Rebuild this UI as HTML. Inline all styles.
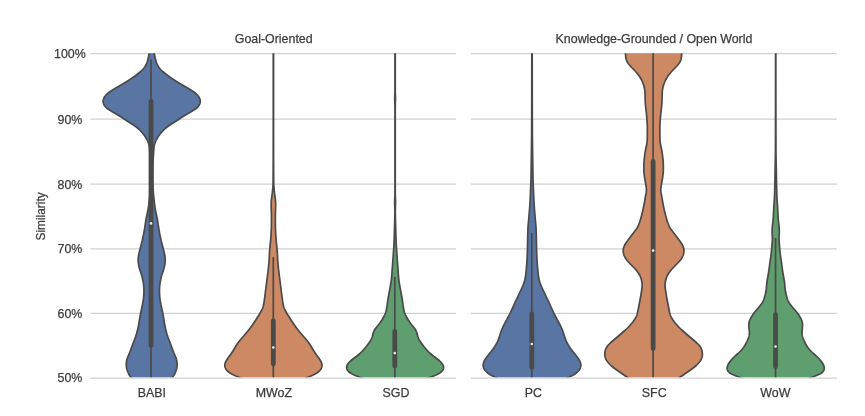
<!DOCTYPE html>
<html><head><meta charset="utf-8"><title>Similarity violin plot</title>
<style>html,body{margin:0;padding:0;background:#fff;}svg{display:block;will-change:transform;}text{font-family:"Liberation Sans",sans-serif;font-size:12.4px;fill:#3d3d3d;stroke:#3d3d3d;stroke-width:0.25px;}</style></head><body>
<svg width="865" height="416" viewBox="0 0 865 416">
<rect x="0" y="0" width="865" height="416" fill="#ffffff"/>
<defs>
<clipPath id="cl"><rect x="88.4" y="53.20" width="369.6" height="324.10"/></clipPath>
<clipPath id="cr"><rect x="468.9" y="53.20" width="369.8" height="324.10"/></clipPath>
</defs>
<g stroke="#d2d2d2" stroke-width="1.25" fill="none">
<line x1="90.4" y1="53.50" x2="456.0" y2="53.50"/>
<line x1="470.9" y1="53.50" x2="836.7" y2="53.50"/>
<line x1="90.4" y1="119.20" x2="456.0" y2="119.20"/>
<line x1="470.9" y1="119.20" x2="836.7" y2="119.20"/>
<line x1="90.4" y1="184.10" x2="456.0" y2="184.10"/>
<line x1="470.9" y1="184.10" x2="836.7" y2="184.10"/>
<line x1="90.4" y1="248.90" x2="456.0" y2="248.90"/>
<line x1="470.9" y1="248.90" x2="836.7" y2="248.90"/>
<line x1="90.4" y1="313.30" x2="456.0" y2="313.30"/>
<line x1="470.9" y1="313.30" x2="836.7" y2="313.30"/>
<line x1="90.4" y1="378.00" x2="456.0" y2="378.00"/>
<line x1="470.9" y1="378.00" x2="836.7" y2="378.00"/>
</g>
<text x="69.9" y="57.95" text-anchor="middle">100%</text>
<text x="69.9" y="123.65" text-anchor="middle">90%</text>
<text x="69.9" y="188.55" text-anchor="middle">80%</text>
<text x="69.9" y="253.35" text-anchor="middle">70%</text>
<text x="69.9" y="317.75" text-anchor="middle">60%</text>
<text x="69.9" y="382.45" text-anchor="middle">50%</text>
<text transform="translate(45.2,216.4) rotate(-90)" text-anchor="middle" style="font-size:11.9px">Similarity</text>
<text x="273.7" y="42.7" text-anchor="middle">Goal-Oriented</text>
<text x="654.0" y="42.7" text-anchor="middle">Knowledge-Grounded / Open World</text>
<text x="151.8" y="396.6" text-anchor="middle">BABI</text>
<text x="273.9" y="396.6" text-anchor="middle">MWoZ</text>
<text x="396.0" y="396.6" text-anchor="middle">SGD</text>
<text x="533.3" y="396.6" text-anchor="middle">PC</text>
<text x="654.2" y="396.6" text-anchor="middle">SFC</text>
<text x="775.4" y="396.6" text-anchor="middle">WoW</text>
<g clip-path="url(#cl)">
<path d="M149.32,50.00 L149.31,50.50 L149.29,51.00 L149.26,51.50 L149.23,52.00 L149.19,52.50 L149.14,53.00 L149.09,53.50 L149.02,54.00 L148.95,54.50 L148.86,55.00 L148.77,55.50 L148.67,56.00 L148.57,56.50 L148.46,57.00 L148.34,57.50 L148.22,58.00 L148.10,58.50 L147.98,59.00 L147.85,59.50 L147.72,60.00 L147.58,60.50 L147.44,61.00 L147.29,61.50 L147.14,62.00 L146.97,62.50 L146.79,63.00 L146.59,63.50 L146.38,64.00 L146.15,64.50 L145.89,65.00 L145.62,65.50 L145.33,66.00 L145.01,66.50 L144.68,67.00 L144.32,67.50 L143.94,68.00 L143.54,68.50 L143.12,69.00 L142.68,69.50 L142.21,70.00 L141.71,70.50 L141.19,71.00 L140.65,71.50 L140.08,72.00 L139.49,72.50 L138.89,73.00 L138.27,73.50 L137.64,74.00 L137.00,74.50 L136.34,75.00 L135.68,75.50 L135.00,76.00 L134.32,76.50 L133.62,77.00 L132.91,77.50 L132.20,78.00 L131.47,78.50 L130.73,79.00 L129.97,79.50 L129.21,80.00 L128.44,80.50 L127.65,81.00 L126.86,81.50 L126.05,82.00 L125.24,82.50 L124.41,83.00 L123.58,83.50 L122.74,84.00 L121.88,84.50 L121.03,85.00 L120.16,85.50 L119.30,86.00 L118.43,86.50 L117.56,87.00 L116.69,87.50 L115.84,88.00 L115.00,88.50 L114.16,89.00 L113.35,89.50 L112.55,90.00 L111.76,90.50 L111.00,91.00 L110.26,91.50 L109.55,92.00 L108.87,92.50 L108.23,93.00 L107.63,93.50 L107.07,94.00 L106.55,94.50 L106.07,95.00 L105.63,95.50 L105.23,96.00 L104.86,96.50 L104.53,97.00 L104.24,97.50 L103.97,98.00 L103.74,98.50 L103.55,99.00 L103.39,99.50 L103.27,100.00 L103.19,100.50 L103.14,101.00 L103.14,101.50 L103.18,102.00 L103.25,102.50 L103.36,103.00 L103.51,103.50 L103.69,104.00 L103.91,104.50 L104.17,105.00 L104.47,105.50 L104.82,106.00 L105.21,106.50 L105.66,107.00 L106.17,107.50 L106.73,108.00 L107.35,108.50 L108.03,109.00 L108.74,109.50 L109.50,110.00 L110.29,110.50 L111.10,111.00 L111.92,111.50 L112.76,112.00 L113.60,112.50 L114.45,113.00 L115.30,113.50 L116.15,114.00 L117.00,114.50 L117.84,115.00 L118.68,115.50 L119.50,116.00 L120.31,116.50 L121.11,117.00 L121.89,117.50 L122.66,118.00 L123.42,118.50 L124.16,119.00 L124.91,119.50 L125.65,120.00 L126.40,120.50 L127.16,121.00 L127.93,121.50 L128.71,122.00 L129.50,122.50 L130.30,123.00 L131.10,123.50 L131.90,124.00 L132.69,124.50 L133.46,125.00 L134.22,125.50 L134.94,126.00 L135.64,126.50 L136.31,127.00 L136.94,127.50 L137.55,128.00 L138.12,128.50 L138.67,129.00 L139.20,129.50 L139.71,130.00 L140.20,130.50 L140.68,131.00 L141.14,131.50 L141.59,132.00 L142.03,132.50 L142.46,133.00 L142.88,133.50 L143.28,134.00 L143.68,134.50 L144.06,135.00 L144.43,135.50 L144.79,136.00 L145.13,136.50 L145.45,137.00 L145.77,137.50 L146.06,138.00 L146.35,138.50 L146.63,139.00 L146.89,139.50 L147.14,140.00 L147.38,140.50 L147.62,141.00 L147.84,141.50 L148.05,142.00 L148.25,142.50 L148.44,143.00 L148.61,143.50 L148.76,144.00 L148.90,144.50 L149.02,145.00 L149.12,145.50 L149.21,146.00 L149.28,146.50 L149.35,147.00 L149.40,147.50 L149.45,148.00 L149.50,148.50 L149.54,149.00 L149.58,149.50 L149.61,150.00 L149.65,150.50 L149.68,151.00 L149.72,151.50 L149.75,152.00 L149.79,152.50 L149.83,153.00 L149.86,153.50 L149.90,154.00 L149.93,154.50 L149.97,155.00 L150.00,155.50 L150.03,156.00 L150.06,156.50 L150.09,157.00 L150.12,157.50 L150.15,158.00 L150.18,158.50 L150.20,159.00 L150.22,159.50 L150.24,160.00 L150.26,160.50 L150.28,161.00 L150.29,161.50 L150.31,162.00 L150.33,162.50 L150.34,163.00 L150.35,163.50 L150.37,164.00 L150.38,164.50 L150.40,165.00 L150.41,165.50 L150.42,166.00 L150.43,166.50 L150.45,167.00 L150.46,167.50 L150.47,168.00 L150.48,168.50 L150.49,169.00 L150.50,169.50 L150.50,170.00 L150.51,170.50 L150.52,171.00 L150.52,171.50 L150.53,172.00 L150.53,172.50 L150.54,173.00 L150.54,173.50 L150.54,174.00 L150.54,174.50 L150.54,175.00 L150.54,175.50 L150.54,176.00 L150.54,176.50 L150.54,177.00 L150.54,177.50 L150.53,178.00 L150.53,178.50 L150.52,179.00 L150.51,179.50 L150.51,180.00 L150.50,180.50 L150.49,181.00 L150.48,181.50 L150.47,182.00 L150.46,182.50 L150.45,183.00 L150.44,183.50 L150.43,184.00 L150.42,184.50 L150.40,185.00 L150.39,185.50 L150.37,186.00 L150.36,186.50 L150.34,187.00 L150.33,187.50 L150.31,188.00 L150.29,188.50 L150.28,189.00 L150.25,189.50 L150.23,190.00 L150.20,190.50 L150.18,191.00 L150.14,191.50 L150.11,192.00 L150.07,192.50 L150.02,193.00 L149.98,193.50 L149.93,194.00 L149.87,194.50 L149.82,195.00 L149.77,195.50 L149.71,196.00 L149.65,196.50 L149.59,197.00 L149.54,197.50 L149.48,198.00 L149.42,198.50 L149.37,199.00 L149.31,199.50 L149.26,200.00 L149.21,200.50 L149.16,201.00 L149.11,201.50 L149.06,202.00 L149.01,202.50 L148.96,203.00 L148.91,203.50 L148.86,204.00 L148.80,204.50 L148.75,205.00 L148.68,205.50 L148.62,206.00 L148.55,206.50 L148.47,207.00 L148.39,207.50 L148.31,208.00 L148.22,208.50 L148.13,209.00 L148.04,209.50 L147.94,210.00 L147.85,210.50 L147.75,211.00 L147.65,211.50 L147.55,212.00 L147.44,212.50 L147.34,213.00 L147.24,213.50 L147.13,214.00 L147.03,214.50 L146.92,215.00 L146.82,215.50 L146.71,216.00 L146.61,216.50 L146.51,217.00 L146.41,217.50 L146.31,218.00 L146.22,218.50 L146.12,219.00 L146.03,219.50 L145.95,220.00 L145.86,220.50 L145.78,221.00 L145.70,221.50 L145.62,222.00 L145.54,222.50 L145.46,223.00 L145.38,223.50 L145.31,224.00 L145.23,224.50 L145.15,225.00 L145.08,225.50 L145.00,226.00 L144.93,226.50 L144.86,227.00 L144.78,227.50 L144.71,228.00 L144.63,228.50 L144.56,229.00 L144.48,229.50 L144.40,230.00 L144.32,230.50 L144.23,231.00 L144.15,231.50 L144.06,232.00 L143.96,232.50 L143.87,233.00 L143.77,233.50 L143.68,234.00 L143.58,234.50 L143.47,235.00 L143.37,235.50 L143.26,236.00 L143.16,236.50 L143.05,237.00 L142.94,237.50 L142.83,238.00 L142.71,238.50 L142.60,239.00 L142.48,239.50 L142.36,240.00 L142.25,240.50 L142.12,241.00 L142.00,241.50 L141.88,242.00 L141.76,242.50 L141.63,243.00 L141.51,243.50 L141.38,244.00 L141.26,244.50 L141.13,245.00 L141.00,245.50 L140.87,246.00 L140.75,246.50 L140.62,247.00 L140.49,247.50 L140.36,248.00 L140.23,248.50 L140.10,249.00 L139.98,249.50 L139.85,250.00 L139.72,250.50 L139.59,251.00 L139.47,251.50 L139.34,252.00 L139.22,252.50 L139.11,253.00 L138.99,253.50 L138.89,254.00 L138.78,254.50 L138.69,255.00 L138.60,255.50 L138.51,256.00 L138.44,256.50 L138.37,257.00 L138.30,257.50 L138.25,258.00 L138.21,258.50 L138.18,259.00 L138.16,259.50 L138.15,260.00 L138.16,260.50 L138.18,261.00 L138.21,261.50 L138.25,262.00 L138.30,262.50 L138.37,263.00 L138.44,263.50 L138.51,264.00 L138.59,264.50 L138.68,265.00 L138.78,265.50 L138.88,266.00 L138.98,266.50 L139.09,267.00 L139.21,267.50 L139.34,268.00 L139.47,268.50 L139.61,269.00 L139.75,269.50 L139.90,270.00 L140.06,270.50 L140.23,271.00 L140.40,271.50 L140.57,272.00 L140.75,272.50 L140.93,273.00 L141.10,273.50 L141.27,274.00 L141.43,274.50 L141.59,275.00 L141.74,275.50 L141.89,276.00 L142.02,276.50 L142.15,277.00 L142.28,277.50 L142.40,278.00 L142.51,278.50 L142.62,279.00 L142.73,279.50 L142.83,280.00 L142.93,280.50 L143.02,281.00 L143.11,281.50 L143.20,282.00 L143.28,282.50 L143.36,283.00 L143.43,283.50 L143.50,284.00 L143.56,284.50 L143.62,285.00 L143.67,285.50 L143.71,286.00 L143.76,286.50 L143.79,287.00 L143.83,287.50 L143.85,288.00 L143.88,288.50 L143.90,289.00 L143.91,289.50 L143.92,290.00 L143.92,290.50 L143.92,291.00 L143.92,291.50 L143.92,292.00 L143.91,292.50 L143.90,293.00 L143.88,293.50 L143.86,294.00 L143.84,294.50 L143.81,295.00 L143.78,295.50 L143.75,296.00 L143.71,296.50 L143.66,297.00 L143.61,297.50 L143.55,298.00 L143.49,298.50 L143.42,299.00 L143.35,299.50 L143.28,300.00 L143.21,300.50 L143.13,301.00 L143.05,301.50 L142.96,302.00 L142.87,302.50 L142.78,303.00 L142.69,303.50 L142.59,304.00 L142.49,304.50 L142.40,305.00 L142.29,305.50 L142.19,306.00 L142.09,306.50 L141.98,307.00 L141.88,307.50 L141.77,308.00 L141.66,308.50 L141.55,309.00 L141.44,309.50 L141.33,310.00 L141.22,310.50 L141.11,311.00 L141.00,311.50 L140.89,312.00 L140.79,312.50 L140.69,313.00 L140.59,313.50 L140.49,314.00 L140.40,314.50 L140.31,315.00 L140.22,315.50 L140.13,316.00 L140.04,316.50 L139.95,317.00 L139.87,317.50 L139.78,318.00 L139.70,318.50 L139.62,319.00 L139.54,319.50 L139.46,320.00 L139.38,320.50 L139.30,321.00 L139.22,321.50 L139.14,322.00 L139.06,322.50 L138.98,323.00 L138.89,323.50 L138.81,324.00 L138.72,324.50 L138.63,325.00 L138.53,325.50 L138.44,326.00 L138.34,326.50 L138.23,327.00 L138.12,327.50 L138.01,328.00 L137.90,328.50 L137.79,329.00 L137.67,329.50 L137.55,330.00 L137.42,330.50 L137.29,331.00 L137.16,331.50 L137.03,332.00 L136.89,332.50 L136.75,333.00 L136.60,333.50 L136.46,334.00 L136.30,334.50 L136.15,335.00 L135.99,335.50 L135.83,336.00 L135.66,336.50 L135.50,337.00 L135.32,337.50 L135.15,338.00 L134.97,338.50 L134.78,339.00 L134.60,339.50 L134.41,340.00 L134.22,340.50 L134.02,341.00 L133.83,341.50 L133.64,342.00 L133.44,342.50 L133.25,343.00 L133.06,343.50 L132.87,344.00 L132.68,344.50 L132.49,345.00 L132.31,345.50 L132.12,346.00 L131.94,346.50 L131.76,347.00 L131.57,347.50 L131.39,348.00 L131.20,348.50 L131.02,349.00 L130.83,349.50 L130.64,350.00 L130.45,350.50 L130.26,351.00 L130.07,351.50 L129.87,352.00 L129.67,352.50 L129.47,353.00 L129.26,353.50 L129.04,354.00 L128.82,354.50 L128.60,355.00 L128.38,355.50 L128.16,356.00 L127.95,356.50 L127.74,357.00 L127.55,357.50 L127.37,358.00 L127.21,358.50 L127.06,359.00 L126.93,359.50 L126.81,360.00 L126.70,360.50 L126.61,361.00 L126.52,361.50 L126.45,362.00 L126.39,362.50 L126.34,363.00 L126.30,363.50 L126.28,364.00 L126.27,364.50 L126.28,365.00 L126.30,365.50 L126.34,366.00 L126.39,366.50 L126.46,367.00 L126.54,367.50 L126.64,368.00 L126.75,368.50 L126.88,369.00 L127.01,369.50 L127.16,370.00 L127.32,370.50 L127.49,371.00 L127.67,371.50 L127.86,372.00 L128.07,372.50 L128.29,373.00 L128.53,373.50 L128.79,374.00 L129.06,374.50 L129.34,375.00 L129.65,375.50 L129.96,376.00 L130.29,376.50 L130.62,377.00 L130.97,377.50 L131.32,378.00 L131.68,378.50 L132.05,379.00 L132.41,379.50 L132.76,380.00 L133.10,380.50 L133.41,381.00 L133.69,381.50 L133.93,382.00 L169.47,382.00 L169.71,381.50 L169.99,381.00 L170.30,380.50 L170.64,380.00 L170.99,379.50 L171.35,379.00 L171.72,378.50 L172.08,378.00 L172.43,377.50 L172.78,377.00 L173.11,376.50 L173.44,376.00 L173.75,375.50 L174.06,375.00 L174.34,374.50 L174.61,374.00 L174.87,373.50 L175.11,373.00 L175.33,372.50 L175.54,372.00 L175.73,371.50 L175.91,371.00 L176.08,370.50 L176.24,370.00 L176.39,369.50 L176.52,369.00 L176.65,368.50 L176.76,368.00 L176.86,367.50 L176.94,367.00 L177.01,366.50 L177.06,366.00 L177.10,365.50 L177.12,365.00 L177.13,364.50 L177.12,364.00 L177.10,363.50 L177.06,363.00 L177.01,362.50 L176.95,362.00 L176.88,361.50 L176.79,361.00 L176.70,360.50 L176.59,360.00 L176.47,359.50 L176.34,359.00 L176.19,358.50 L176.03,358.00 L175.85,357.50 L175.66,357.00 L175.45,356.50 L175.24,356.00 L175.02,355.50 L174.80,355.00 L174.58,354.50 L174.36,354.00 L174.14,353.50 L173.93,353.00 L173.73,352.50 L173.53,352.00 L173.33,351.50 L173.14,351.00 L172.95,350.50 L172.76,350.00 L172.57,349.50 L172.38,349.00 L172.20,348.50 L172.01,348.00 L171.83,347.50 L171.64,347.00 L171.46,346.50 L171.28,346.00 L171.09,345.50 L170.91,345.00 L170.72,344.50 L170.53,344.00 L170.34,343.50 L170.15,343.00 L169.96,342.50 L169.76,342.00 L169.57,341.50 L169.38,341.00 L169.18,340.50 L168.99,340.00 L168.80,339.50 L168.62,339.00 L168.43,338.50 L168.25,338.00 L168.08,337.50 L167.90,337.00 L167.74,336.50 L167.57,336.00 L167.41,335.50 L167.25,335.00 L167.10,334.50 L166.94,334.00 L166.80,333.50 L166.65,333.00 L166.51,332.50 L166.37,332.00 L166.24,331.50 L166.11,331.00 L165.98,330.50 L165.85,330.00 L165.73,329.50 L165.61,329.00 L165.50,328.50 L165.39,328.00 L165.28,327.50 L165.17,327.00 L165.06,326.50 L164.96,326.00 L164.87,325.50 L164.77,325.00 L164.68,324.50 L164.59,324.00 L164.51,323.50 L164.42,323.00 L164.34,322.50 L164.26,322.00 L164.18,321.50 L164.10,321.00 L164.02,320.50 L163.94,320.00 L163.86,319.50 L163.78,319.00 L163.70,318.50 L163.62,318.00 L163.53,317.50 L163.45,317.00 L163.36,316.50 L163.27,316.00 L163.18,315.50 L163.09,315.00 L163.00,314.50 L162.91,314.00 L162.81,313.50 L162.71,313.00 L162.61,312.50 L162.51,312.00 L162.40,311.50 L162.29,311.00 L162.18,310.50 L162.07,310.00 L161.96,309.50 L161.85,309.00 L161.74,308.50 L161.63,308.00 L161.52,307.50 L161.42,307.00 L161.31,306.50 L161.21,306.00 L161.11,305.50 L161.00,305.00 L160.91,304.50 L160.81,304.00 L160.71,303.50 L160.62,303.00 L160.53,302.50 L160.44,302.00 L160.35,301.50 L160.27,301.00 L160.19,300.50 L160.12,300.00 L160.05,299.50 L159.98,299.00 L159.91,298.50 L159.85,298.00 L159.79,297.50 L159.74,297.00 L159.69,296.50 L159.65,296.00 L159.62,295.50 L159.59,295.00 L159.56,294.50 L159.54,294.00 L159.52,293.50 L159.50,293.00 L159.49,292.50 L159.48,292.00 L159.48,291.50 L159.48,291.00 L159.48,290.50 L159.48,290.00 L159.49,289.50 L159.50,289.00 L159.52,288.50 L159.55,288.00 L159.57,287.50 L159.61,287.00 L159.64,286.50 L159.69,286.00 L159.73,285.50 L159.78,285.00 L159.84,284.50 L159.90,284.00 L159.97,283.50 L160.04,283.00 L160.12,282.50 L160.20,282.00 L160.29,281.50 L160.38,281.00 L160.47,280.50 L160.57,280.00 L160.67,279.50 L160.78,279.00 L160.89,278.50 L161.00,278.00 L161.12,277.50 L161.25,277.00 L161.38,276.50 L161.51,276.00 L161.66,275.50 L161.81,275.00 L161.97,274.50 L162.13,274.00 L162.30,273.50 L162.47,273.00 L162.65,272.50 L162.83,272.00 L163.00,271.50 L163.17,271.00 L163.34,270.50 L163.50,270.00 L163.65,269.50 L163.79,269.00 L163.93,268.50 L164.06,268.00 L164.19,267.50 L164.31,267.00 L164.42,266.50 L164.52,266.00 L164.62,265.50 L164.72,265.00 L164.81,264.50 L164.89,264.00 L164.96,263.50 L165.03,263.00 L165.10,262.50 L165.15,262.00 L165.19,261.50 L165.22,261.00 L165.24,260.50 L165.25,260.00 L165.24,259.50 L165.22,259.00 L165.19,258.50 L165.15,258.00 L165.10,257.50 L165.03,257.00 L164.96,256.50 L164.89,256.00 L164.80,255.50 L164.71,255.00 L164.62,254.50 L164.51,254.00 L164.41,253.50 L164.29,253.00 L164.18,252.50 L164.06,252.00 L163.93,251.50 L163.81,251.00 L163.68,250.50 L163.55,250.00 L163.42,249.50 L163.30,249.00 L163.17,248.50 L163.04,248.00 L162.91,247.50 L162.78,247.00 L162.65,246.50 L162.53,246.00 L162.40,245.50 L162.27,245.00 L162.14,244.50 L162.02,244.00 L161.89,243.50 L161.77,243.00 L161.64,242.50 L161.52,242.00 L161.40,241.50 L161.28,241.00 L161.15,240.50 L161.04,240.00 L160.92,239.50 L160.80,239.00 L160.69,238.50 L160.57,238.00 L160.46,237.50 L160.35,237.00 L160.24,236.50 L160.14,236.00 L160.03,235.50 L159.93,235.00 L159.82,234.50 L159.72,234.00 L159.63,233.50 L159.53,233.00 L159.44,232.50 L159.34,232.00 L159.25,231.50 L159.17,231.00 L159.08,230.50 L159.00,230.00 L158.92,229.50 L158.84,229.00 L158.77,228.50 L158.69,228.00 L158.62,227.50 L158.54,227.00 L158.47,226.50 L158.40,226.00 L158.32,225.50 L158.25,225.00 L158.17,224.50 L158.09,224.00 L158.02,223.50 L157.94,223.00 L157.86,222.50 L157.78,222.00 L157.70,221.50 L157.62,221.00 L157.54,220.50 L157.45,220.00 L157.37,219.50 L157.28,219.00 L157.18,218.50 L157.09,218.00 L156.99,217.50 L156.89,217.00 L156.79,216.50 L156.69,216.00 L156.58,215.50 L156.48,215.00 L156.37,214.50 L156.27,214.00 L156.16,213.50 L156.06,213.00 L155.96,212.50 L155.85,212.00 L155.75,211.50 L155.65,211.00 L155.55,210.50 L155.46,210.00 L155.36,209.50 L155.27,209.00 L155.18,208.50 L155.09,208.00 L155.01,207.50 L154.93,207.00 L154.85,206.50 L154.78,206.00 L154.72,205.50 L154.65,205.00 L154.60,204.50 L154.54,204.00 L154.49,203.50 L154.44,203.00 L154.39,202.50 L154.34,202.00 L154.29,201.50 L154.24,201.00 L154.19,200.50 L154.14,200.00 L154.09,199.50 L154.03,199.00 L153.98,198.50 L153.92,198.00 L153.86,197.50 L153.81,197.00 L153.75,196.50 L153.69,196.00 L153.63,195.50 L153.58,195.00 L153.53,194.50 L153.47,194.00 L153.42,193.50 L153.38,193.00 L153.33,192.50 L153.29,192.00 L153.26,191.50 L153.22,191.00 L153.20,190.50 L153.17,190.00 L153.15,189.50 L153.12,189.00 L153.11,188.50 L153.09,188.00 L153.07,187.50 L153.06,187.00 L153.04,186.50 L153.03,186.00 L153.01,185.50 L153.00,185.00 L152.98,184.50 L152.97,184.00 L152.96,183.50 L152.95,183.00 L152.94,182.50 L152.93,182.00 L152.92,181.50 L152.91,181.00 L152.90,180.50 L152.89,180.00 L152.89,179.50 L152.88,179.00 L152.87,178.50 L152.87,178.00 L152.86,177.50 L152.86,177.00 L152.86,176.50 L152.86,176.00 L152.86,175.50 L152.86,175.00 L152.86,174.50 L152.86,174.00 L152.86,173.50 L152.86,173.00 L152.87,172.50 L152.87,172.00 L152.88,171.50 L152.88,171.00 L152.89,170.50 L152.90,170.00 L152.90,169.50 L152.91,169.00 L152.92,168.50 L152.93,168.00 L152.94,167.50 L152.95,167.00 L152.97,166.50 L152.98,166.00 L152.99,165.50 L153.00,165.00 L153.02,164.50 L153.03,164.00 L153.05,163.50 L153.06,163.00 L153.07,162.50 L153.09,162.00 L153.11,161.50 L153.12,161.00 L153.14,160.50 L153.16,160.00 L153.18,159.50 L153.20,159.00 L153.22,158.50 L153.25,158.00 L153.28,157.50 L153.31,157.00 L153.34,156.50 L153.37,156.00 L153.40,155.50 L153.43,155.00 L153.47,154.50 L153.50,154.00 L153.54,153.50 L153.57,153.00 L153.61,152.50 L153.65,152.00 L153.68,151.50 L153.72,151.00 L153.75,150.50 L153.79,150.00 L153.82,149.50 L153.86,149.00 L153.90,148.50 L153.95,148.00 L154.00,147.50 L154.05,147.00 L154.12,146.50 L154.19,146.00 L154.28,145.50 L154.38,145.00 L154.50,144.50 L154.64,144.00 L154.79,143.50 L154.96,143.00 L155.15,142.50 L155.35,142.00 L155.56,141.50 L155.78,141.00 L156.02,140.50 L156.26,140.00 L156.51,139.50 L156.77,139.00 L157.05,138.50 L157.34,138.00 L157.63,137.50 L157.95,137.00 L158.27,136.50 L158.61,136.00 L158.97,135.50 L159.34,135.00 L159.72,134.50 L160.12,134.00 L160.52,133.50 L160.94,133.00 L161.37,132.50 L161.81,132.00 L162.26,131.50 L162.72,131.00 L163.20,130.50 L163.69,130.00 L164.20,129.50 L164.73,129.00 L165.28,128.50 L165.85,128.00 L166.46,127.50 L167.09,127.00 L167.76,126.50 L168.46,126.00 L169.18,125.50 L169.94,125.00 L170.71,124.50 L171.50,124.00 L172.30,123.50 L173.10,123.00 L173.90,122.50 L174.69,122.00 L175.47,121.50 L176.24,121.00 L177.00,120.50 L177.75,120.00 L178.49,119.50 L179.24,119.00 L179.98,118.50 L180.74,118.00 L181.51,117.50 L182.29,117.00 L183.09,116.50 L183.90,116.00 L184.72,115.50 L185.56,115.00 L186.40,114.50 L187.25,114.00 L188.10,113.50 L188.95,113.00 L189.80,112.50 L190.64,112.00 L191.48,111.50 L192.30,111.00 L193.11,110.50 L193.90,110.00 L194.66,109.50 L195.37,109.00 L196.05,108.50 L196.67,108.00 L197.23,107.50 L197.74,107.00 L198.19,106.50 L198.58,106.00 L198.93,105.50 L199.23,105.00 L199.49,104.50 L199.71,104.00 L199.89,103.50 L200.04,103.00 L200.15,102.50 L200.22,102.00 L200.26,101.50 L200.26,101.00 L200.21,100.50 L200.13,100.00 L200.01,99.50 L199.85,99.00 L199.66,98.50 L199.43,98.00 L199.16,97.50 L198.87,97.00 L198.54,96.50 L198.17,96.00 L197.77,95.50 L197.33,95.00 L196.85,94.50 L196.33,94.00 L195.77,93.50 L195.17,93.00 L194.53,92.50 L193.85,92.00 L193.14,91.50 L192.40,91.00 L191.64,90.50 L190.85,90.00 L190.05,89.50 L189.24,89.00 L188.40,88.50 L187.56,88.00 L186.71,87.50 L185.84,87.00 L184.97,86.50 L184.10,86.00 L183.24,85.50 L182.37,85.00 L181.52,84.50 L180.66,84.00 L179.82,83.50 L178.99,83.00 L178.16,82.50 L177.35,82.00 L176.54,81.50 L175.75,81.00 L174.96,80.50 L174.19,80.00 L173.43,79.50 L172.67,79.00 L171.93,78.50 L171.20,78.00 L170.49,77.50 L169.78,77.00 L169.08,76.50 L168.40,76.00 L167.72,75.50 L167.06,75.00 L166.40,74.50 L165.76,74.00 L165.13,73.50 L164.51,73.00 L163.91,72.50 L163.32,72.00 L162.75,71.50 L162.21,71.00 L161.69,70.50 L161.19,70.00 L160.72,69.50 L160.28,69.00 L159.86,68.50 L159.46,68.00 L159.08,67.50 L158.72,67.00 L158.39,66.50 L158.07,66.00 L157.78,65.50 L157.51,65.00 L157.25,64.50 L157.02,64.00 L156.81,63.50 L156.61,63.00 L156.43,62.50 L156.26,62.00 L156.11,61.50 L155.96,61.00 L155.82,60.50 L155.68,60.00 L155.55,59.50 L155.42,59.00 L155.30,58.50 L155.18,58.00 L155.06,57.50 L154.94,57.00 L154.83,56.50 L154.73,56.00 L154.63,55.50 L154.54,55.00 L154.45,54.50 L154.38,54.00 L154.31,53.50 L154.26,53.00 L154.21,52.50 L154.17,52.00 L154.14,51.50 L154.11,51.00 L154.09,50.50 L154.08,50.00 Z" fill="#5875a4" stroke="#4a4a4a" stroke-width="1.70" stroke-linejoin="round"/>
<line x1="151.00" y1="59.40" x2="151.00" y2="385.00" stroke="#4a4a4a" stroke-width="1.7"/>
<line x1="151.00" y1="101.50" x2="151.00" y2="345.40" stroke="#4a4a4a" stroke-width="4.8" stroke-linecap="round"/>
<circle cx="151.00" cy="223.40" r="1.3" fill="#ececec"/>
<path d="M273.25,50.00 L273.25,50.50 L273.25,51.00 L273.25,51.50 L273.25,52.00 L273.25,52.50 L273.25,53.00 L273.25,53.50 L273.25,54.00 L273.25,54.50 L273.25,55.00 L273.25,55.50 L273.25,56.00 L273.25,56.50 L273.25,57.00 L273.25,57.50 L273.25,58.00 L273.25,58.50 L273.25,59.00 L273.25,59.50 L273.25,60.00 L273.25,60.50 L273.25,61.00 L273.25,61.50 L273.25,62.00 L273.25,62.50 L273.25,63.00 L273.25,63.50 L273.25,64.00 L273.25,64.50 L273.25,65.00 L273.25,65.50 L273.25,66.00 L273.25,66.50 L273.25,67.00 L273.25,67.50 L273.25,68.00 L273.25,68.50 L273.25,69.00 L273.25,69.50 L273.25,70.00 L273.25,70.50 L273.25,71.00 L273.25,71.50 L273.25,72.00 L273.25,72.50 L273.25,73.00 L273.25,73.50 L273.25,74.00 L273.25,74.50 L273.25,75.00 L273.25,75.50 L273.25,76.00 L273.25,76.50 L273.25,77.00 L273.25,77.50 L273.25,78.00 L273.25,78.50 L273.25,79.00 L273.25,79.50 L273.25,80.00 L273.25,80.50 L273.25,81.00 L273.25,81.50 L273.25,82.00 L273.25,82.50 L273.25,83.00 L273.25,83.50 L273.25,84.00 L273.25,84.50 L273.25,85.00 L273.25,85.50 L273.25,86.00 L273.25,86.50 L273.25,87.00 L273.25,87.50 L273.25,88.00 L273.25,88.50 L273.25,89.00 L273.25,89.50 L273.25,90.00 L273.25,90.50 L273.25,91.00 L273.25,91.50 L273.25,92.00 L273.25,92.50 L273.25,93.00 L273.25,93.50 L273.25,94.00 L273.25,94.50 L273.25,95.00 L273.25,95.50 L273.25,96.00 L273.25,96.50 L273.25,97.00 L273.25,97.50 L273.25,98.00 L273.25,98.50 L273.25,99.00 L273.25,99.50 L273.25,100.00 L273.25,100.50 L273.25,101.00 L273.25,101.50 L273.25,102.00 L273.25,102.50 L273.25,103.00 L273.25,103.50 L273.25,104.00 L273.25,104.50 L273.25,105.00 L273.25,105.50 L273.25,106.00 L273.25,106.50 L273.25,107.00 L273.25,107.50 L273.25,108.00 L273.25,108.50 L273.25,109.00 L273.25,109.50 L273.25,110.00 L273.25,110.50 L273.25,111.00 L273.25,111.50 L273.25,112.00 L273.25,112.50 L273.25,113.00 L273.25,113.50 L273.25,114.00 L273.25,114.50 L273.25,115.00 L273.25,115.50 L273.25,116.00 L273.25,116.50 L273.25,117.00 L273.25,117.50 L273.25,118.00 L273.25,118.50 L273.25,119.00 L273.25,119.50 L273.25,120.00 L273.25,120.50 L273.25,121.00 L273.25,121.50 L273.25,122.00 L273.25,122.50 L273.25,123.00 L273.25,123.50 L273.25,124.00 L273.25,124.50 L273.25,125.00 L273.25,125.50 L273.25,126.00 L273.25,126.50 L273.25,127.00 L273.25,127.50 L273.25,128.00 L273.25,128.50 L273.25,129.00 L273.25,129.50 L273.25,130.00 L273.25,130.50 L273.25,131.00 L273.25,131.50 L273.25,132.00 L273.25,132.50 L273.25,133.00 L273.25,133.50 L273.25,134.00 L273.24,134.50 L273.24,135.00 L273.24,135.50 L273.24,136.00 L273.24,136.50 L273.24,137.00 L273.24,137.50 L273.24,138.00 L273.24,138.50 L273.24,139.00 L273.24,139.50 L273.24,140.00 L273.24,140.50 L273.24,141.00 L273.24,141.50 L273.24,142.00 L273.24,142.50 L273.24,143.00 L273.23,143.50 L273.23,144.00 L273.23,144.50 L273.23,145.00 L273.23,145.50 L273.23,146.00 L273.23,146.50 L273.23,147.00 L273.23,147.50 L273.23,148.00 L273.23,148.50 L273.23,149.00 L273.22,149.50 L273.22,150.00 L273.22,150.50 L273.22,151.00 L273.22,151.50 L273.22,152.00 L273.22,152.50 L273.22,153.00 L273.22,153.50 L273.21,154.00 L273.21,154.50 L273.21,155.00 L273.21,155.50 L273.21,156.00 L273.21,156.50 L273.21,157.00 L273.21,157.50 L273.20,158.00 L273.20,158.50 L273.20,159.00 L273.20,159.50 L273.20,160.00 L273.20,160.50 L273.19,161.00 L273.19,161.50 L273.19,162.00 L273.19,162.50 L273.19,163.00 L273.19,163.50 L273.18,164.00 L273.18,164.50 L273.18,165.00 L273.18,165.50 L273.18,166.00 L273.18,166.50 L273.17,167.00 L273.17,167.50 L273.17,168.00 L273.17,168.50 L273.17,169.00 L273.16,169.50 L273.16,170.00 L273.16,170.50 L273.16,171.00 L273.15,171.50 L273.15,172.00 L273.15,172.50 L273.15,173.00 L273.15,173.50 L273.14,174.00 L273.14,174.50 L273.14,175.00 L273.14,175.50 L273.13,176.00 L273.13,176.50 L273.13,177.00 L273.13,177.50 L273.12,178.00 L273.12,178.50 L273.12,179.00 L273.11,179.50 L273.11,180.00 L273.11,180.50 L273.10,181.00 L273.09,181.50 L273.09,182.00 L273.08,182.50 L273.06,183.00 L273.05,183.50 L273.03,184.00 L273.01,184.50 L272.99,185.00 L272.96,185.50 L272.93,186.00 L272.90,186.50 L272.87,187.00 L272.83,187.50 L272.79,188.00 L272.75,188.50 L272.71,189.00 L272.67,189.50 L272.62,190.00 L272.58,190.50 L272.53,191.00 L272.48,191.50 L272.43,192.00 L272.37,192.50 L272.31,193.00 L272.25,193.50 L272.18,194.00 L272.11,194.50 L272.04,195.00 L271.97,195.50 L271.89,196.00 L271.82,196.50 L271.75,197.00 L271.68,197.50 L271.61,198.00 L271.55,198.50 L271.49,199.00 L271.43,199.50 L271.38,200.00 L271.33,200.50 L271.29,201.00 L271.25,201.50 L271.22,202.00 L271.19,202.50 L271.17,203.00 L271.15,203.50 L271.14,204.00 L271.14,204.50 L271.14,205.00 L271.15,205.50 L271.16,206.00 L271.17,206.50 L271.18,207.00 L271.20,207.50 L271.21,208.00 L271.23,208.50 L271.25,209.00 L271.26,209.50 L271.28,210.00 L271.30,210.50 L271.31,211.00 L271.33,211.50 L271.34,212.00 L271.36,212.50 L271.37,213.00 L271.39,213.50 L271.40,214.00 L271.41,214.50 L271.42,215.00 L271.43,215.50 L271.43,216.00 L271.44,216.50 L271.44,217.00 L271.44,217.50 L271.44,218.00 L271.44,218.50 L271.44,219.00 L271.44,219.50 L271.44,220.00 L271.44,220.50 L271.44,221.00 L271.43,221.50 L271.43,222.00 L271.43,222.50 L271.42,223.00 L271.42,223.50 L271.42,224.00 L271.41,224.50 L271.41,225.00 L271.40,225.50 L271.39,226.00 L271.38,226.50 L271.37,227.00 L271.36,227.50 L271.35,228.00 L271.33,228.50 L271.32,229.00 L271.30,229.50 L271.28,230.00 L271.26,230.50 L271.23,231.00 L271.21,231.50 L271.18,232.00 L271.15,232.50 L271.13,233.00 L271.10,233.50 L271.07,234.00 L271.04,234.50 L271.01,235.00 L270.98,235.50 L270.94,236.00 L270.91,236.50 L270.88,237.00 L270.84,237.50 L270.80,238.00 L270.76,238.50 L270.72,239.00 L270.68,239.50 L270.64,240.00 L270.59,240.50 L270.54,241.00 L270.50,241.50 L270.44,242.00 L270.39,242.50 L270.34,243.00 L270.29,243.50 L270.23,244.00 L270.18,244.50 L270.13,245.00 L270.07,245.50 L270.02,246.00 L269.97,246.50 L269.92,247.00 L269.87,247.50 L269.83,248.00 L269.78,248.50 L269.74,249.00 L269.70,249.50 L269.66,250.00 L269.63,250.50 L269.59,251.00 L269.56,251.50 L269.53,252.00 L269.50,252.50 L269.47,253.00 L269.45,253.50 L269.42,254.00 L269.39,254.50 L269.37,255.00 L269.34,255.50 L269.32,256.00 L269.29,256.50 L269.27,257.00 L269.24,257.50 L269.22,258.00 L269.19,258.50 L269.16,259.00 L269.14,259.50 L269.11,260.00 L269.07,260.50 L269.04,261.00 L269.01,261.50 L268.97,262.00 L268.94,262.50 L268.90,263.00 L268.86,263.50 L268.81,264.00 L268.77,264.50 L268.72,265.00 L268.67,265.50 L268.62,266.00 L268.57,266.50 L268.51,267.00 L268.46,267.50 L268.40,268.00 L268.34,268.50 L268.28,269.00 L268.23,269.50 L268.16,270.00 L268.10,270.50 L268.04,271.00 L267.98,271.50 L267.92,272.00 L267.86,272.50 L267.80,273.00 L267.73,273.50 L267.67,274.00 L267.61,274.50 L267.55,275.00 L267.49,275.50 L267.43,276.00 L267.37,276.50 L267.30,277.00 L267.24,277.50 L267.18,278.00 L267.11,278.50 L267.05,279.00 L266.99,279.50 L266.92,280.00 L266.86,280.50 L266.79,281.00 L266.73,281.50 L266.66,282.00 L266.60,282.50 L266.53,283.00 L266.47,283.50 L266.40,284.00 L266.34,284.50 L266.27,285.00 L266.21,285.50 L266.14,286.00 L266.08,286.50 L266.02,287.00 L265.95,287.50 L265.89,288.00 L265.83,288.50 L265.76,289.00 L265.70,289.50 L265.64,290.00 L265.58,290.50 L265.51,291.00 L265.45,291.50 L265.39,292.00 L265.33,292.50 L265.27,293.00 L265.20,293.50 L265.14,294.00 L265.08,294.50 L265.02,295.00 L264.95,295.50 L264.89,296.00 L264.82,296.50 L264.76,297.00 L264.69,297.50 L264.62,298.00 L264.56,298.50 L264.49,299.00 L264.42,299.50 L264.35,300.00 L264.28,300.50 L264.21,301.00 L264.14,301.50 L264.07,302.00 L263.99,302.50 L263.92,303.00 L263.84,303.50 L263.75,304.00 L263.65,304.50 L263.55,305.00 L263.44,305.50 L263.31,306.00 L263.17,306.50 L263.01,307.00 L262.84,307.50 L262.65,308.00 L262.45,308.50 L262.23,309.00 L261.99,309.50 L261.75,310.00 L261.50,310.50 L261.24,311.00 L260.97,311.50 L260.70,312.00 L260.42,312.50 L260.14,313.00 L259.85,313.50 L259.55,314.00 L259.25,314.50 L258.95,315.00 L258.64,315.50 L258.32,316.00 L258.00,316.50 L257.68,317.00 L257.36,317.50 L257.04,318.00 L256.72,318.50 L256.40,319.00 L256.07,319.50 L255.75,320.00 L255.43,320.50 L255.10,321.00 L254.78,321.50 L254.45,322.00 L254.12,322.50 L253.79,323.00 L253.45,323.50 L253.11,324.00 L252.77,324.50 L252.42,325.00 L252.07,325.50 L251.71,326.00 L251.35,326.50 L250.99,327.00 L250.62,327.50 L250.25,328.00 L249.87,328.50 L249.49,329.00 L249.10,329.50 L248.71,330.00 L248.31,330.50 L247.91,331.00 L247.50,331.50 L247.09,332.00 L246.67,332.50 L246.25,333.00 L245.82,333.50 L245.39,334.00 L244.96,334.50 L244.52,335.00 L244.09,335.50 L243.66,336.00 L243.22,336.50 L242.79,337.00 L242.36,337.50 L241.93,338.00 L241.50,338.50 L241.07,339.00 L240.65,339.50 L240.23,340.00 L239.82,340.50 L239.41,341.00 L239.01,341.50 L238.62,342.00 L238.24,342.50 L237.88,343.00 L237.52,343.50 L237.18,344.00 L236.85,344.50 L236.54,345.00 L236.23,345.50 L235.93,346.00 L235.64,346.50 L235.35,347.00 L235.07,347.50 L234.78,348.00 L234.49,348.50 L234.20,349.00 L233.90,349.50 L233.59,350.00 L233.28,350.50 L232.96,351.00 L232.64,351.50 L232.31,352.00 L231.97,352.50 L231.63,353.00 L231.28,353.50 L230.93,354.00 L230.57,354.50 L230.22,355.00 L229.85,355.50 L229.49,356.00 L229.13,356.50 L228.76,357.00 L228.40,357.50 L228.05,358.00 L227.70,358.50 L227.36,359.00 L227.03,359.50 L226.72,360.00 L226.41,360.50 L226.13,361.00 L225.86,361.50 L225.61,362.00 L225.39,362.50 L225.20,363.00 L225.05,363.50 L224.93,364.00 L224.86,364.50 L224.82,365.00 L224.82,365.50 L224.86,366.00 L224.93,366.50 L225.04,367.00 L225.19,367.50 L225.37,368.00 L225.60,368.50 L225.87,369.00 L226.19,369.50 L226.56,370.00 L226.99,370.50 L227.48,371.00 L228.03,371.50 L228.64,372.00 L229.32,372.50 L230.07,373.00 L230.88,373.50 L231.76,374.00 L232.71,374.50 L233.71,375.00 L234.78,375.50 L235.90,376.00 L237.06,376.50 L238.26,377.00 L239.49,377.50 L240.73,378.00 L241.99,378.50 L243.24,379.00 L244.49,379.50 L245.71,380.00 L246.89,380.50 L248.01,381.00 L249.05,381.50 L249.99,382.00 L250.81,382.50 L251.50,383.00 L295.30,383.00 L295.99,382.50 L296.81,382.00 L297.75,381.50 L298.79,381.00 L299.91,380.50 L301.09,380.00 L302.31,379.50 L303.56,379.00 L304.81,378.50 L306.07,378.00 L307.31,377.50 L308.54,377.00 L309.74,376.50 L310.90,376.00 L312.02,375.50 L313.09,375.00 L314.09,374.50 L315.04,374.00 L315.92,373.50 L316.73,373.00 L317.48,372.50 L318.16,372.00 L318.77,371.50 L319.32,371.00 L319.81,370.50 L320.24,370.00 L320.61,369.50 L320.93,369.00 L321.20,368.50 L321.43,368.00 L321.61,367.50 L321.76,367.00 L321.87,366.50 L321.94,366.00 L321.98,365.50 L321.98,365.00 L321.94,364.50 L321.87,364.00 L321.75,363.50 L321.60,363.00 L321.41,362.50 L321.19,362.00 L320.94,361.50 L320.67,361.00 L320.39,360.50 L320.08,360.00 L319.77,359.50 L319.44,359.00 L319.10,358.50 L318.75,358.00 L318.40,357.50 L318.04,357.00 L317.67,356.50 L317.31,356.00 L316.95,355.50 L316.58,355.00 L316.23,354.50 L315.87,354.00 L315.52,353.50 L315.17,353.00 L314.83,352.50 L314.49,352.00 L314.16,351.50 L313.84,351.00 L313.52,350.50 L313.21,350.00 L312.90,349.50 L312.60,349.00 L312.31,348.50 L312.02,348.00 L311.73,347.50 L311.45,347.00 L311.16,346.50 L310.87,346.00 L310.57,345.50 L310.26,345.00 L309.95,344.50 L309.62,344.00 L309.28,343.50 L308.92,343.00 L308.56,342.50 L308.18,342.00 L307.79,341.50 L307.39,341.00 L306.98,340.50 L306.57,340.00 L306.15,339.50 L305.73,339.00 L305.30,338.50 L304.87,338.00 L304.44,337.50 L304.01,337.00 L303.58,336.50 L303.14,336.00 L302.71,335.50 L302.28,335.00 L301.84,334.50 L301.41,334.00 L300.98,333.50 L300.55,333.00 L300.13,332.50 L299.71,332.00 L299.30,331.50 L298.89,331.00 L298.49,330.50 L298.09,330.00 L297.70,329.50 L297.31,329.00 L296.93,328.50 L296.55,328.00 L296.18,327.50 L295.81,327.00 L295.45,326.50 L295.09,326.00 L294.73,325.50 L294.38,325.00 L294.03,324.50 L293.69,324.00 L293.35,323.50 L293.01,323.00 L292.68,322.50 L292.35,322.00 L292.02,321.50 L291.70,321.00 L291.37,320.50 L291.05,320.00 L290.73,319.50 L290.40,319.00 L290.08,318.50 L289.76,318.00 L289.44,317.50 L289.12,317.00 L288.80,316.50 L288.48,316.00 L288.16,315.50 L287.85,315.00 L287.55,314.50 L287.25,314.00 L286.95,313.50 L286.66,313.00 L286.38,312.50 L286.10,312.00 L285.83,311.50 L285.56,311.00 L285.30,310.50 L285.05,310.00 L284.81,309.50 L284.57,309.00 L284.35,308.50 L284.15,308.00 L283.96,307.50 L283.79,307.00 L283.63,306.50 L283.49,306.00 L283.36,305.50 L283.25,305.00 L283.15,304.50 L283.05,304.00 L282.96,303.50 L282.88,303.00 L282.81,302.50 L282.73,302.00 L282.66,301.50 L282.59,301.00 L282.52,300.50 L282.45,300.00 L282.38,299.50 L282.31,299.00 L282.24,298.50 L282.18,298.00 L282.11,297.50 L282.04,297.00 L281.98,296.50 L281.91,296.00 L281.85,295.50 L281.78,295.00 L281.72,294.50 L281.66,294.00 L281.60,293.50 L281.53,293.00 L281.47,292.50 L281.41,292.00 L281.35,291.50 L281.29,291.00 L281.22,290.50 L281.16,290.00 L281.10,289.50 L281.04,289.00 L280.97,288.50 L280.91,288.00 L280.85,287.50 L280.78,287.00 L280.72,286.50 L280.66,286.00 L280.59,285.50 L280.53,285.00 L280.46,284.50 L280.40,284.00 L280.33,283.50 L280.27,283.00 L280.20,282.50 L280.14,282.00 L280.07,281.50 L280.01,281.00 L279.94,280.50 L279.88,280.00 L279.81,279.50 L279.75,279.00 L279.69,278.50 L279.62,278.00 L279.56,277.50 L279.50,277.00 L279.43,276.50 L279.37,276.00 L279.31,275.50 L279.25,275.00 L279.19,274.50 L279.13,274.00 L279.07,273.50 L279.00,273.00 L278.94,272.50 L278.88,272.00 L278.82,271.50 L278.76,271.00 L278.70,270.50 L278.64,270.00 L278.57,269.50 L278.52,269.00 L278.46,268.50 L278.40,268.00 L278.34,267.50 L278.29,267.00 L278.23,266.50 L278.18,266.00 L278.13,265.50 L278.08,265.00 L278.03,264.50 L277.99,264.00 L277.94,263.50 L277.90,263.00 L277.86,262.50 L277.83,262.00 L277.79,261.50 L277.76,261.00 L277.73,260.50 L277.69,260.00 L277.66,259.50 L277.64,259.00 L277.61,258.50 L277.58,258.00 L277.56,257.50 L277.53,257.00 L277.51,256.50 L277.48,256.00 L277.46,255.50 L277.43,255.00 L277.41,254.50 L277.38,254.00 L277.35,253.50 L277.33,253.00 L277.30,252.50 L277.27,252.00 L277.24,251.50 L277.21,251.00 L277.17,250.50 L277.14,250.00 L277.10,249.50 L277.06,249.00 L277.02,248.50 L276.97,248.00 L276.93,247.50 L276.88,247.00 L276.83,246.50 L276.78,246.00 L276.73,245.50 L276.67,245.00 L276.62,244.50 L276.57,244.00 L276.51,243.50 L276.46,243.00 L276.41,242.50 L276.36,242.00 L276.30,241.50 L276.26,241.00 L276.21,240.50 L276.16,240.00 L276.12,239.50 L276.08,239.00 L276.04,238.50 L276.00,238.00 L275.96,237.50 L275.92,237.00 L275.89,236.50 L275.86,236.00 L275.82,235.50 L275.79,235.00 L275.76,234.50 L275.73,234.00 L275.70,233.50 L275.67,233.00 L275.65,232.50 L275.62,232.00 L275.59,231.50 L275.57,231.00 L275.54,230.50 L275.52,230.00 L275.50,229.50 L275.48,229.00 L275.47,228.50 L275.45,228.00 L275.44,227.50 L275.43,227.00 L275.42,226.50 L275.41,226.00 L275.40,225.50 L275.39,225.00 L275.39,224.50 L275.38,224.00 L275.38,223.50 L275.38,223.00 L275.37,222.50 L275.37,222.00 L275.37,221.50 L275.36,221.00 L275.36,220.50 L275.36,220.00 L275.36,219.50 L275.36,219.00 L275.36,218.50 L275.36,218.00 L275.36,217.50 L275.36,217.00 L275.36,216.50 L275.37,216.00 L275.37,215.50 L275.38,215.00 L275.39,214.50 L275.40,214.00 L275.41,213.50 L275.43,213.00 L275.44,212.50 L275.46,212.00 L275.47,211.50 L275.49,211.00 L275.50,210.50 L275.52,210.00 L275.54,209.50 L275.55,209.00 L275.57,208.50 L275.59,208.00 L275.60,207.50 L275.62,207.00 L275.63,206.50 L275.64,206.00 L275.65,205.50 L275.66,205.00 L275.66,204.50 L275.66,204.00 L275.65,203.50 L275.63,203.00 L275.61,202.50 L275.58,202.00 L275.55,201.50 L275.51,201.00 L275.47,200.50 L275.42,200.00 L275.37,199.50 L275.31,199.00 L275.25,198.50 L275.19,198.00 L275.12,197.50 L275.05,197.00 L274.98,196.50 L274.91,196.00 L274.83,195.50 L274.76,195.00 L274.69,194.50 L274.62,194.00 L274.55,193.50 L274.49,193.00 L274.43,192.50 L274.37,192.00 L274.32,191.50 L274.27,191.00 L274.22,190.50 L274.18,190.00 L274.13,189.50 L274.09,189.00 L274.05,188.50 L274.01,188.00 L273.97,187.50 L273.93,187.00 L273.90,186.50 L273.87,186.00 L273.84,185.50 L273.81,185.00 L273.79,184.50 L273.77,184.00 L273.75,183.50 L273.74,183.00 L273.72,182.50 L273.71,182.00 L273.71,181.50 L273.70,181.00 L273.69,180.50 L273.69,180.00 L273.69,179.50 L273.68,179.00 L273.68,178.50 L273.68,178.00 L273.67,177.50 L273.67,177.00 L273.67,176.50 L273.67,176.00 L273.66,175.50 L273.66,175.00 L273.66,174.50 L273.66,174.00 L273.65,173.50 L273.65,173.00 L273.65,172.50 L273.65,172.00 L273.65,171.50 L273.64,171.00 L273.64,170.50 L273.64,170.00 L273.64,169.50 L273.63,169.00 L273.63,168.50 L273.63,168.00 L273.63,167.50 L273.63,167.00 L273.62,166.50 L273.62,166.00 L273.62,165.50 L273.62,165.00 L273.62,164.50 L273.62,164.00 L273.61,163.50 L273.61,163.00 L273.61,162.50 L273.61,162.00 L273.61,161.50 L273.61,161.00 L273.60,160.50 L273.60,160.00 L273.60,159.50 L273.60,159.00 L273.60,158.50 L273.60,158.00 L273.59,157.50 L273.59,157.00 L273.59,156.50 L273.59,156.00 L273.59,155.50 L273.59,155.00 L273.59,154.50 L273.59,154.00 L273.58,153.50 L273.58,153.00 L273.58,152.50 L273.58,152.00 L273.58,151.50 L273.58,151.00 L273.58,150.50 L273.58,150.00 L273.58,149.50 L273.57,149.00 L273.57,148.50 L273.57,148.00 L273.57,147.50 L273.57,147.00 L273.57,146.50 L273.57,146.00 L273.57,145.50 L273.57,145.00 L273.57,144.50 L273.57,144.00 L273.57,143.50 L273.56,143.00 L273.56,142.50 L273.56,142.00 L273.56,141.50 L273.56,141.00 L273.56,140.50 L273.56,140.00 L273.56,139.50 L273.56,139.00 L273.56,138.50 L273.56,138.00 L273.56,137.50 L273.56,137.00 L273.56,136.50 L273.56,136.00 L273.56,135.50 L273.56,135.00 L273.56,134.50 L273.55,134.00 L273.55,133.50 L273.55,133.00 L273.55,132.50 L273.55,132.00 L273.55,131.50 L273.55,131.00 L273.55,130.50 L273.55,130.00 L273.55,129.50 L273.55,129.00 L273.55,128.50 L273.55,128.00 L273.55,127.50 L273.55,127.00 L273.55,126.50 L273.55,126.00 L273.55,125.50 L273.55,125.00 L273.55,124.50 L273.55,124.00 L273.55,123.50 L273.55,123.00 L273.55,122.50 L273.55,122.00 L273.55,121.50 L273.55,121.00 L273.55,120.50 L273.55,120.00 L273.55,119.50 L273.55,119.00 L273.55,118.50 L273.55,118.00 L273.55,117.50 L273.55,117.00 L273.55,116.50 L273.55,116.00 L273.55,115.50 L273.55,115.00 L273.55,114.50 L273.55,114.00 L273.55,113.50 L273.55,113.00 L273.55,112.50 L273.55,112.00 L273.55,111.50 L273.55,111.00 L273.55,110.50 L273.55,110.00 L273.55,109.50 L273.55,109.00 L273.55,108.50 L273.55,108.00 L273.55,107.50 L273.55,107.00 L273.55,106.50 L273.55,106.00 L273.55,105.50 L273.55,105.00 L273.55,104.50 L273.55,104.00 L273.55,103.50 L273.55,103.00 L273.55,102.50 L273.55,102.00 L273.55,101.50 L273.55,101.00 L273.55,100.50 L273.55,100.00 L273.55,99.50 L273.55,99.00 L273.55,98.50 L273.55,98.00 L273.55,97.50 L273.55,97.00 L273.55,96.50 L273.55,96.00 L273.55,95.50 L273.55,95.00 L273.55,94.50 L273.55,94.00 L273.55,93.50 L273.55,93.00 L273.55,92.50 L273.55,92.00 L273.55,91.50 L273.55,91.00 L273.55,90.50 L273.55,90.00 L273.55,89.50 L273.55,89.00 L273.55,88.50 L273.55,88.00 L273.55,87.50 L273.55,87.00 L273.55,86.50 L273.55,86.00 L273.55,85.50 L273.55,85.00 L273.55,84.50 L273.55,84.00 L273.55,83.50 L273.55,83.00 L273.55,82.50 L273.55,82.00 L273.55,81.50 L273.55,81.00 L273.55,80.50 L273.55,80.00 L273.55,79.50 L273.55,79.00 L273.55,78.50 L273.55,78.00 L273.55,77.50 L273.55,77.00 L273.55,76.50 L273.55,76.00 L273.55,75.50 L273.55,75.00 L273.55,74.50 L273.55,74.00 L273.55,73.50 L273.55,73.00 L273.55,72.50 L273.55,72.00 L273.55,71.50 L273.55,71.00 L273.55,70.50 L273.55,70.00 L273.55,69.50 L273.55,69.00 L273.55,68.50 L273.55,68.00 L273.55,67.50 L273.55,67.00 L273.55,66.50 L273.55,66.00 L273.55,65.50 L273.55,65.00 L273.55,64.50 L273.55,64.00 L273.55,63.50 L273.55,63.00 L273.55,62.50 L273.55,62.00 L273.55,61.50 L273.55,61.00 L273.55,60.50 L273.55,60.00 L273.55,59.50 L273.55,59.00 L273.55,58.50 L273.55,58.00 L273.55,57.50 L273.55,57.00 L273.55,56.50 L273.55,56.00 L273.55,55.50 L273.55,55.00 L273.55,54.50 L273.55,54.00 L273.55,53.50 L273.55,53.00 L273.55,52.50 L273.55,52.00 L273.55,51.50 L273.55,51.00 L273.55,50.50 L273.55,50.00 Z" fill="#cc8963" stroke="#4a4a4a" stroke-width="1.70" stroke-linejoin="round"/>
<line x1="273.30" y1="256.90" x2="273.30" y2="385.00" stroke="#4a4a4a" stroke-width="1.7"/>
<line x1="273.30" y1="320.90" x2="273.30" y2="364.10" stroke="#4a4a4a" stroke-width="4.8" stroke-linecap="round"/>
<circle cx="273.30" cy="347.50" r="1.3" fill="#ececec"/>
<path d="M394.95,50.00 L394.95,50.50 L394.95,51.00 L394.95,51.50 L394.95,52.00 L394.95,52.50 L394.95,53.00 L394.95,53.50 L394.95,54.00 L394.95,54.50 L394.95,55.00 L394.95,55.50 L394.95,56.00 L394.95,56.50 L394.95,57.00 L394.95,57.50 L394.95,58.00 L394.95,58.50 L394.95,59.00 L394.95,59.50 L394.95,60.00 L394.95,60.50 L394.95,61.00 L394.95,61.50 L394.95,62.00 L394.95,62.50 L394.95,63.00 L394.95,63.50 L394.95,64.00 L394.95,64.50 L394.95,65.00 L394.95,65.50 L394.95,66.00 L394.95,66.50 L394.95,67.00 L394.95,67.50 L394.95,68.00 L394.95,68.50 L394.95,69.00 L394.95,69.50 L394.95,70.00 L394.95,70.50 L394.95,71.00 L394.95,71.50 L394.95,72.00 L394.95,72.50 L394.95,73.00 L394.95,73.50 L394.95,74.00 L394.95,74.50 L394.95,75.00 L394.95,75.50 L394.95,76.00 L394.95,76.50 L394.95,77.00 L394.95,77.50 L394.95,78.00 L394.95,78.50 L394.95,79.00 L394.95,79.50 L394.95,80.00 L394.95,80.50 L394.95,81.00 L394.95,81.50 L394.95,82.00 L394.95,82.50 L394.95,83.00 L394.95,83.50 L394.95,84.00 L394.95,84.50 L394.95,85.00 L394.95,85.50 L394.95,86.00 L394.95,86.50 L394.95,87.00 L394.95,87.50 L394.95,88.00 L394.95,88.50 L394.95,89.00 L394.95,89.50 L394.95,90.00 L394.94,90.50 L394.94,91.00 L394.94,91.50 L394.93,92.00 L394.92,92.50 L394.90,93.00 L394.89,93.50 L394.87,94.00 L394.84,94.50 L394.82,95.00 L394.79,95.50 L394.77,96.00 L394.75,96.50 L394.73,97.00 L394.71,97.50 L394.70,98.00 L394.70,98.50 L394.70,99.00 L394.71,99.50 L394.72,100.00 L394.74,100.50 L394.76,101.00 L394.78,101.50 L394.81,102.00 L394.83,102.50 L394.86,103.00 L394.88,103.50 L394.90,104.00 L394.91,104.50 L394.92,105.00 L394.93,105.50 L394.94,106.00 L394.94,106.50 L394.95,107.00 L394.95,107.50 L394.95,108.00 L394.95,108.50 L394.95,109.00 L394.95,109.50 L394.95,110.00 L394.95,110.50 L394.95,111.00 L394.95,111.50 L394.95,112.00 L394.95,112.50 L394.95,113.00 L394.95,113.50 L394.95,114.00 L394.95,114.50 L394.95,115.00 L394.95,115.50 L394.95,116.00 L394.95,116.50 L394.95,117.00 L394.95,117.50 L394.95,118.00 L394.95,118.50 L394.95,119.00 L394.95,119.50 L394.95,120.00 L394.95,120.50 L394.95,121.00 L394.95,121.50 L394.95,122.00 L394.95,122.50 L394.95,123.00 L394.95,123.50 L394.95,124.00 L394.95,124.50 L394.95,125.00 L394.95,125.50 L394.95,126.00 L394.95,126.50 L394.95,127.00 L394.95,127.50 L394.95,128.00 L394.95,128.50 L394.95,129.00 L394.95,129.50 L394.95,130.00 L394.95,130.50 L394.95,131.00 L394.95,131.50 L394.95,132.00 L394.95,132.50 L394.95,133.00 L394.95,133.50 L394.95,134.00 L394.95,134.50 L394.95,135.00 L394.95,135.50 L394.95,136.00 L394.95,136.50 L394.95,137.00 L394.95,137.50 L394.95,138.00 L394.95,138.50 L394.95,139.00 L394.95,139.50 L394.95,140.00 L394.95,140.50 L394.95,141.00 L394.95,141.50 L394.95,142.00 L394.95,142.50 L394.95,143.00 L394.95,143.50 L394.95,144.00 L394.95,144.50 L394.95,145.00 L394.95,145.50 L394.95,146.00 L394.95,146.50 L394.95,147.00 L394.95,147.50 L394.95,148.00 L394.95,148.50 L394.95,149.00 L394.95,149.50 L394.95,150.00 L394.95,150.50 L394.95,151.00 L394.95,151.50 L394.95,152.00 L394.95,152.50 L394.95,153.00 L394.95,153.50 L394.95,154.00 L394.95,154.50 L394.95,155.00 L394.95,155.50 L394.95,156.00 L394.95,156.50 L394.95,157.00 L394.95,157.50 L394.95,158.00 L394.95,158.50 L394.95,159.00 L394.95,159.50 L394.95,160.00 L394.95,160.50 L394.95,161.00 L394.95,161.50 L394.95,162.00 L394.95,162.50 L394.95,163.00 L394.95,163.50 L394.95,164.00 L394.95,164.50 L394.95,165.00 L394.95,165.50 L394.95,166.00 L394.95,166.50 L394.95,167.00 L394.95,167.50 L394.95,168.00 L394.95,168.50 L394.95,169.00 L394.95,169.50 L394.95,170.00 L394.95,170.50 L394.95,171.00 L394.95,171.50 L394.95,172.00 L394.95,172.50 L394.95,173.00 L394.95,173.50 L394.95,174.00 L394.95,174.50 L394.95,175.00 L394.95,175.50 L394.95,176.00 L394.95,176.50 L394.95,177.00 L394.95,177.50 L394.95,178.00 L394.95,178.50 L394.95,179.00 L394.95,179.50 L394.95,180.00 L394.95,180.50 L394.95,181.00 L394.95,181.50 L394.95,182.00 L394.95,182.50 L394.95,183.00 L394.95,183.50 L394.95,184.00 L394.95,184.50 L394.95,185.00 L394.95,185.50 L394.95,186.00 L394.95,186.50 L394.95,187.00 L394.95,187.50 L394.95,188.00 L394.95,188.50 L394.95,189.00 L394.95,189.50 L394.95,190.00 L394.95,190.50 L394.95,191.00 L394.95,191.50 L394.95,192.00 L394.95,192.50 L394.95,193.00 L394.94,193.50 L394.94,194.00 L394.94,194.50 L394.93,195.00 L394.92,195.50 L394.90,196.00 L394.89,196.50 L394.86,197.00 L394.84,197.50 L394.82,198.00 L394.79,198.50 L394.76,199.00 L394.73,199.50 L394.71,200.00 L394.69,200.50 L394.67,201.00 L394.66,201.50 L394.65,202.00 L394.64,202.50 L394.64,203.00 L394.65,203.50 L394.66,204.00 L394.68,204.50 L394.69,205.00 L394.72,205.50 L394.74,206.00 L394.76,206.50 L394.78,207.00 L394.81,207.50 L394.83,208.00 L394.84,208.50 L394.86,209.00 L394.87,209.50 L394.88,210.00 L394.88,210.50 L394.89,211.00 L394.89,211.50 L394.88,212.00 L394.88,212.50 L394.88,213.00 L394.87,213.50 L394.87,214.00 L394.86,214.50 L394.85,215.00 L394.84,215.50 L394.83,216.00 L394.82,216.50 L394.81,217.00 L394.80,217.50 L394.79,218.00 L394.78,218.50 L394.77,219.00 L394.75,219.50 L394.74,220.00 L394.73,220.50 L394.71,221.00 L394.70,221.50 L394.68,222.00 L394.67,222.50 L394.66,223.00 L394.64,223.50 L394.63,224.00 L394.61,224.50 L394.60,225.00 L394.58,225.50 L394.57,226.00 L394.55,226.50 L394.54,227.00 L394.52,227.50 L394.51,228.00 L394.49,228.50 L394.48,229.00 L394.46,229.50 L394.45,230.00 L394.44,230.50 L394.42,231.00 L394.41,231.50 L394.40,232.00 L394.38,232.50 L394.37,233.00 L394.35,233.50 L394.34,234.00 L394.33,234.50 L394.31,235.00 L394.30,235.50 L394.28,236.00 L394.26,236.50 L394.25,237.00 L394.23,237.50 L394.22,238.00 L394.20,238.50 L394.18,239.00 L394.16,239.50 L394.15,240.00 L394.13,240.50 L394.11,241.00 L394.09,241.50 L394.07,242.00 L394.04,242.50 L394.02,243.00 L394.00,243.50 L393.97,244.00 L393.95,244.50 L393.92,245.00 L393.89,245.50 L393.86,246.00 L393.83,246.50 L393.80,247.00 L393.77,247.50 L393.74,248.00 L393.70,248.50 L393.67,249.00 L393.63,249.50 L393.60,250.00 L393.57,250.50 L393.53,251.00 L393.50,251.50 L393.46,252.00 L393.43,252.50 L393.39,253.00 L393.36,253.50 L393.32,254.00 L393.29,254.50 L393.25,255.00 L393.22,255.50 L393.18,256.00 L393.15,256.50 L393.11,257.00 L393.08,257.50 L393.04,258.00 L393.01,258.50 L392.97,259.00 L392.94,259.50 L392.90,260.00 L392.87,260.50 L392.83,261.00 L392.79,261.50 L392.76,262.00 L392.72,262.50 L392.68,263.00 L392.65,263.50 L392.61,264.00 L392.57,264.50 L392.54,265.00 L392.50,265.50 L392.46,266.00 L392.43,266.50 L392.39,267.00 L392.35,267.50 L392.31,268.00 L392.28,268.50 L392.24,269.00 L392.21,269.50 L392.17,270.00 L392.13,270.50 L392.10,271.00 L392.06,271.50 L392.03,272.00 L391.99,272.50 L391.96,273.00 L391.92,273.50 L391.88,274.00 L391.84,274.50 L391.80,275.00 L391.76,275.50 L391.72,276.00 L391.68,276.50 L391.64,277.00 L391.59,277.50 L391.54,278.00 L391.49,278.50 L391.44,279.00 L391.38,279.50 L391.33,280.00 L391.26,280.50 L391.20,281.00 L391.13,281.50 L391.06,282.00 L390.98,282.50 L390.90,283.00 L390.82,283.50 L390.74,284.00 L390.65,284.50 L390.57,285.00 L390.48,285.50 L390.39,286.00 L390.30,286.50 L390.21,287.00 L390.12,287.50 L390.03,288.00 L389.94,288.50 L389.85,289.00 L389.76,289.50 L389.67,290.00 L389.57,290.50 L389.48,291.00 L389.39,291.50 L389.29,292.00 L389.20,292.50 L389.10,293.00 L389.01,293.50 L388.92,294.00 L388.82,294.50 L388.73,295.00 L388.64,295.50 L388.54,296.00 L388.45,296.50 L388.36,297.00 L388.28,297.50 L388.19,298.00 L388.11,298.50 L388.03,299.00 L387.95,299.50 L387.87,300.00 L387.80,300.50 L387.72,301.00 L387.65,301.50 L387.58,302.00 L387.51,302.50 L387.44,303.00 L387.36,303.50 L387.29,304.00 L387.22,304.50 L387.15,305.00 L387.08,305.50 L387.01,306.00 L386.94,306.50 L386.86,307.00 L386.79,307.50 L386.71,308.00 L386.63,308.50 L386.54,309.00 L386.45,309.50 L386.35,310.00 L386.24,310.50 L386.12,311.00 L385.99,311.50 L385.84,312.00 L385.68,312.50 L385.50,313.00 L385.31,313.50 L385.11,314.00 L384.90,314.50 L384.67,315.00 L384.43,315.50 L384.19,316.00 L383.93,316.50 L383.67,317.00 L383.40,317.50 L383.12,318.00 L382.83,318.50 L382.53,319.00 L382.22,319.50 L381.91,320.00 L381.58,320.50 L381.25,321.00 L380.91,321.50 L380.57,322.00 L380.21,322.50 L379.86,323.00 L379.49,323.50 L379.12,324.00 L378.73,324.50 L378.34,325.00 L377.94,325.50 L377.52,326.00 L377.10,326.50 L376.68,327.00 L376.27,327.50 L375.87,328.00 L375.49,328.50 L375.14,329.00 L374.82,329.50 L374.53,330.00 L374.27,330.50 L374.03,331.00 L373.82,331.50 L373.63,332.00 L373.46,332.50 L373.30,333.00 L373.15,333.50 L373.02,334.00 L372.88,334.50 L372.75,335.00 L372.62,335.50 L372.49,336.00 L372.35,336.50 L372.20,337.00 L372.03,337.50 L371.85,338.00 L371.65,338.50 L371.42,339.00 L371.17,339.50 L370.90,340.00 L370.60,340.50 L370.29,341.00 L369.97,341.50 L369.63,342.00 L369.28,342.50 L368.92,343.00 L368.56,343.50 L368.20,344.00 L367.83,344.50 L367.45,345.00 L367.07,345.50 L366.69,346.00 L366.30,346.50 L365.91,347.00 L365.50,347.50 L365.09,348.00 L364.67,348.50 L364.23,349.00 L363.79,349.50 L363.34,350.00 L362.89,350.50 L362.42,351.00 L361.95,351.50 L361.46,352.00 L360.96,352.50 L360.45,353.00 L359.92,353.50 L359.36,354.00 L358.79,354.50 L358.19,355.00 L357.57,355.50 L356.94,356.00 L356.29,356.50 L355.62,357.00 L354.95,357.50 L354.28,358.00 L353.61,358.50 L352.95,359.00 L352.30,359.50 L351.68,360.00 L351.08,360.50 L350.51,361.00 L349.98,361.50 L349.48,362.00 L349.02,362.50 L348.60,363.00 L348.21,363.50 L347.86,364.00 L347.55,364.50 L347.27,365.00 L347.04,365.50 L346.86,366.00 L346.72,366.50 L346.64,367.00 L346.61,367.50 L346.64,368.00 L346.73,368.50 L346.88,369.00 L347.08,369.50 L347.36,370.00 L347.70,370.50 L348.10,371.00 L348.59,371.50 L349.14,372.00 L349.78,372.50 L350.49,373.00 L351.29,373.50 L352.17,374.00 L353.13,374.50 L354.18,375.00 L355.32,375.50 L356.54,376.00 L357.84,376.50 L359.20,377.00 L360.61,377.50 L362.06,378.00 L363.53,378.50 L364.98,379.00 L366.42,379.50 L367.81,380.00 L369.14,380.50 L370.39,381.00 L371.53,381.50 L372.55,382.00 L373.42,382.50 L374.14,383.00 L416.06,383.00 L416.78,382.50 L417.65,382.00 L418.67,381.50 L419.81,381.00 L421.06,380.50 L422.39,380.00 L423.78,379.50 L425.22,379.00 L426.67,378.50 L428.14,378.00 L429.59,377.50 L431.00,377.00 L432.36,376.50 L433.66,376.00 L434.88,375.50 L436.02,375.00 L437.07,374.50 L438.03,374.00 L438.91,373.50 L439.71,373.00 L440.42,372.50 L441.06,372.00 L441.61,371.50 L442.10,371.00 L442.50,370.50 L442.84,370.00 L443.12,369.50 L443.32,369.00 L443.47,368.50 L443.56,368.00 L443.59,367.50 L443.56,367.00 L443.48,366.50 L443.34,366.00 L443.16,365.50 L442.93,365.00 L442.65,364.50 L442.34,364.00 L441.99,363.50 L441.60,363.00 L441.18,362.50 L440.72,362.00 L440.22,361.50 L439.69,361.00 L439.12,360.50 L438.52,360.00 L437.90,359.50 L437.25,359.00 L436.59,358.50 L435.92,358.00 L435.25,357.50 L434.58,357.00 L433.91,356.50 L433.26,356.00 L432.63,355.50 L432.01,355.00 L431.41,354.50 L430.84,354.00 L430.28,353.50 L429.75,353.00 L429.24,352.50 L428.74,352.00 L428.25,351.50 L427.78,351.00 L427.31,350.50 L426.86,350.00 L426.41,349.50 L425.97,349.00 L425.53,348.50 L425.11,348.00 L424.70,347.50 L424.29,347.00 L423.90,346.50 L423.51,346.00 L423.13,345.50 L422.75,345.00 L422.37,344.50 L422.00,344.00 L421.64,343.50 L421.28,343.00 L420.92,342.50 L420.57,342.00 L420.23,341.50 L419.91,341.00 L419.60,340.50 L419.30,340.00 L419.03,339.50 L418.78,339.00 L418.55,338.50 L418.35,338.00 L418.17,337.50 L418.00,337.00 L417.85,336.50 L417.71,336.00 L417.58,335.50 L417.45,335.00 L417.32,334.50 L417.18,334.00 L417.05,333.50 L416.90,333.00 L416.74,332.50 L416.57,332.00 L416.38,331.50 L416.17,331.00 L415.93,330.50 L415.67,330.00 L415.38,329.50 L415.06,329.00 L414.71,328.50 L414.33,328.00 L413.93,327.50 L413.52,327.00 L413.10,326.50 L412.68,326.00 L412.26,325.50 L411.86,325.00 L411.47,324.50 L411.08,324.00 L410.71,323.50 L410.34,323.00 L409.99,322.50 L409.63,322.00 L409.29,321.50 L408.95,321.00 L408.62,320.50 L408.29,320.00 L407.98,319.50 L407.67,319.00 L407.37,318.50 L407.08,318.00 L406.80,317.50 L406.53,317.00 L406.27,316.50 L406.01,316.00 L405.77,315.50 L405.53,315.00 L405.30,314.50 L405.09,314.00 L404.89,313.50 L404.70,313.00 L404.52,312.50 L404.36,312.00 L404.21,311.50 L404.08,311.00 L403.96,310.50 L403.85,310.00 L403.75,309.50 L403.66,309.00 L403.57,308.50 L403.49,308.00 L403.41,307.50 L403.34,307.00 L403.26,306.50 L403.19,306.00 L403.12,305.50 L403.05,305.00 L402.98,304.50 L402.91,304.00 L402.84,303.50 L402.76,303.00 L402.69,302.50 L402.62,302.00 L402.55,301.50 L402.48,301.00 L402.40,300.50 L402.33,300.00 L402.25,299.50 L402.17,299.00 L402.09,298.50 L402.01,298.00 L401.92,297.50 L401.84,297.00 L401.75,296.50 L401.66,296.00 L401.56,295.50 L401.47,295.00 L401.38,294.50 L401.28,294.00 L401.19,293.50 L401.10,293.00 L401.00,292.50 L400.91,292.00 L400.81,291.50 L400.72,291.00 L400.63,290.50 L400.53,290.00 L400.44,289.50 L400.35,289.00 L400.26,288.50 L400.17,288.00 L400.08,287.50 L399.99,287.00 L399.90,286.50 L399.81,286.00 L399.72,285.50 L399.63,285.00 L399.55,284.50 L399.46,284.00 L399.38,283.50 L399.30,283.00 L399.22,282.50 L399.14,282.00 L399.07,281.50 L399.00,281.00 L398.94,280.50 L398.87,280.00 L398.82,279.50 L398.76,279.00 L398.71,278.50 L398.66,278.00 L398.61,277.50 L398.56,277.00 L398.52,276.50 L398.48,276.00 L398.44,275.50 L398.40,275.00 L398.36,274.50 L398.32,274.00 L398.28,273.50 L398.24,273.00 L398.21,272.50 L398.17,272.00 L398.14,271.50 L398.10,271.00 L398.07,270.50 L398.03,270.00 L397.99,269.50 L397.96,269.00 L397.92,268.50 L397.89,268.00 L397.85,267.50 L397.81,267.00 L397.77,266.50 L397.74,266.00 L397.70,265.50 L397.66,265.00 L397.63,264.50 L397.59,264.00 L397.55,263.50 L397.52,263.00 L397.48,262.50 L397.44,262.00 L397.41,261.50 L397.37,261.00 L397.33,260.50 L397.30,260.00 L397.26,259.50 L397.23,259.00 L397.19,258.50 L397.16,258.00 L397.12,257.50 L397.09,257.00 L397.05,256.50 L397.02,256.00 L396.98,255.50 L396.95,255.00 L396.91,254.50 L396.88,254.00 L396.84,253.50 L396.81,253.00 L396.77,252.50 L396.74,252.00 L396.70,251.50 L396.67,251.00 L396.63,250.50 L396.60,250.00 L396.57,249.50 L396.53,249.00 L396.50,248.50 L396.46,248.00 L396.43,247.50 L396.40,247.00 L396.37,246.50 L396.34,246.00 L396.31,245.50 L396.28,245.00 L396.25,244.50 L396.23,244.00 L396.20,243.50 L396.18,243.00 L396.16,242.50 L396.13,242.00 L396.11,241.50 L396.09,241.00 L396.07,240.50 L396.05,240.00 L396.04,239.50 L396.02,239.00 L396.00,238.50 L395.98,238.00 L395.97,237.50 L395.95,237.00 L395.94,236.50 L395.92,236.00 L395.90,235.50 L395.89,235.00 L395.87,234.50 L395.86,234.00 L395.85,233.50 L395.83,233.00 L395.82,232.50 L395.80,232.00 L395.79,231.50 L395.78,231.00 L395.76,230.50 L395.75,230.00 L395.74,229.50 L395.72,229.00 L395.71,228.50 L395.69,228.00 L395.68,227.50 L395.66,227.00 L395.65,226.50 L395.63,226.00 L395.62,225.50 L395.60,225.00 L395.59,224.50 L395.57,224.00 L395.56,223.50 L395.54,223.00 L395.53,222.50 L395.52,222.00 L395.50,221.50 L395.49,221.00 L395.47,220.50 L395.46,220.00 L395.45,219.50 L395.43,219.00 L395.42,218.50 L395.41,218.00 L395.40,217.50 L395.39,217.00 L395.38,216.50 L395.37,216.00 L395.36,215.50 L395.35,215.00 L395.34,214.50 L395.33,214.00 L395.33,213.50 L395.32,213.00 L395.32,212.50 L395.32,212.00 L395.31,211.50 L395.31,211.00 L395.32,210.50 L395.32,210.00 L395.33,209.50 L395.34,209.00 L395.36,208.50 L395.37,208.00 L395.39,207.50 L395.42,207.00 L395.44,206.50 L395.46,206.00 L395.48,205.50 L395.51,205.00 L395.52,204.50 L395.54,204.00 L395.55,203.50 L395.56,203.00 L395.56,202.50 L395.55,202.00 L395.54,201.50 L395.53,201.00 L395.51,200.50 L395.49,200.00 L395.47,199.50 L395.44,199.00 L395.41,198.50 L395.38,198.00 L395.36,197.50 L395.34,197.00 L395.31,196.50 L395.30,196.00 L395.28,195.50 L395.27,195.00 L395.26,194.50 L395.26,194.00 L395.26,193.50 L395.25,193.00 L395.25,192.50 L395.25,192.00 L395.25,191.50 L395.25,191.00 L395.25,190.50 L395.25,190.00 L395.25,189.50 L395.25,189.00 L395.25,188.50 L395.25,188.00 L395.25,187.50 L395.25,187.00 L395.25,186.50 L395.25,186.00 L395.25,185.50 L395.25,185.00 L395.25,184.50 L395.25,184.00 L395.25,183.50 L395.25,183.00 L395.25,182.50 L395.25,182.00 L395.25,181.50 L395.25,181.00 L395.25,180.50 L395.25,180.00 L395.25,179.50 L395.25,179.00 L395.25,178.50 L395.25,178.00 L395.25,177.50 L395.25,177.00 L395.25,176.50 L395.25,176.00 L395.25,175.50 L395.25,175.00 L395.25,174.50 L395.25,174.00 L395.25,173.50 L395.25,173.00 L395.25,172.50 L395.25,172.00 L395.25,171.50 L395.25,171.00 L395.25,170.50 L395.25,170.00 L395.25,169.50 L395.25,169.00 L395.25,168.50 L395.25,168.00 L395.25,167.50 L395.25,167.00 L395.25,166.50 L395.25,166.00 L395.25,165.50 L395.25,165.00 L395.25,164.50 L395.25,164.00 L395.25,163.50 L395.25,163.00 L395.25,162.50 L395.25,162.00 L395.25,161.50 L395.25,161.00 L395.25,160.50 L395.25,160.00 L395.25,159.50 L395.25,159.00 L395.25,158.50 L395.25,158.00 L395.25,157.50 L395.25,157.00 L395.25,156.50 L395.25,156.00 L395.25,155.50 L395.25,155.00 L395.25,154.50 L395.25,154.00 L395.25,153.50 L395.25,153.00 L395.25,152.50 L395.25,152.00 L395.25,151.50 L395.25,151.00 L395.25,150.50 L395.25,150.00 L395.25,149.50 L395.25,149.00 L395.25,148.50 L395.25,148.00 L395.25,147.50 L395.25,147.00 L395.25,146.50 L395.25,146.00 L395.25,145.50 L395.25,145.00 L395.25,144.50 L395.25,144.00 L395.25,143.50 L395.25,143.00 L395.25,142.50 L395.25,142.00 L395.25,141.50 L395.25,141.00 L395.25,140.50 L395.25,140.00 L395.25,139.50 L395.25,139.00 L395.25,138.50 L395.25,138.00 L395.25,137.50 L395.25,137.00 L395.25,136.50 L395.25,136.00 L395.25,135.50 L395.25,135.00 L395.25,134.50 L395.25,134.00 L395.25,133.50 L395.25,133.00 L395.25,132.50 L395.25,132.00 L395.25,131.50 L395.25,131.00 L395.25,130.50 L395.25,130.00 L395.25,129.50 L395.25,129.00 L395.25,128.50 L395.25,128.00 L395.25,127.50 L395.25,127.00 L395.25,126.50 L395.25,126.00 L395.25,125.50 L395.25,125.00 L395.25,124.50 L395.25,124.00 L395.25,123.50 L395.25,123.00 L395.25,122.50 L395.25,122.00 L395.25,121.50 L395.25,121.00 L395.25,120.50 L395.25,120.00 L395.25,119.50 L395.25,119.00 L395.25,118.50 L395.25,118.00 L395.25,117.50 L395.25,117.00 L395.25,116.50 L395.25,116.00 L395.25,115.50 L395.25,115.00 L395.25,114.50 L395.25,114.00 L395.25,113.50 L395.25,113.00 L395.25,112.50 L395.25,112.00 L395.25,111.50 L395.25,111.00 L395.25,110.50 L395.25,110.00 L395.25,109.50 L395.25,109.00 L395.25,108.50 L395.25,108.00 L395.25,107.50 L395.25,107.00 L395.26,106.50 L395.26,106.00 L395.27,105.50 L395.28,105.00 L395.29,104.50 L395.30,104.00 L395.32,103.50 L395.34,103.00 L395.37,102.50 L395.39,102.00 L395.42,101.50 L395.44,101.00 L395.46,100.50 L395.48,100.00 L395.49,99.50 L395.50,99.00 L395.50,98.50 L395.50,98.00 L395.49,97.50 L395.47,97.00 L395.45,96.50 L395.43,96.00 L395.41,95.50 L395.38,95.00 L395.36,94.50 L395.33,94.00 L395.31,93.50 L395.30,93.00 L395.28,92.50 L395.27,92.00 L395.26,91.50 L395.26,91.00 L395.26,90.50 L395.25,90.00 L395.25,89.50 L395.25,89.00 L395.25,88.50 L395.25,88.00 L395.25,87.50 L395.25,87.00 L395.25,86.50 L395.25,86.00 L395.25,85.50 L395.25,85.00 L395.25,84.50 L395.25,84.00 L395.25,83.50 L395.25,83.00 L395.25,82.50 L395.25,82.00 L395.25,81.50 L395.25,81.00 L395.25,80.50 L395.25,80.00 L395.25,79.50 L395.25,79.00 L395.25,78.50 L395.25,78.00 L395.25,77.50 L395.25,77.00 L395.25,76.50 L395.25,76.00 L395.25,75.50 L395.25,75.00 L395.25,74.50 L395.25,74.00 L395.25,73.50 L395.25,73.00 L395.25,72.50 L395.25,72.00 L395.25,71.50 L395.25,71.00 L395.25,70.50 L395.25,70.00 L395.25,69.50 L395.25,69.00 L395.25,68.50 L395.25,68.00 L395.25,67.50 L395.25,67.00 L395.25,66.50 L395.25,66.00 L395.25,65.50 L395.25,65.00 L395.25,64.50 L395.25,64.00 L395.25,63.50 L395.25,63.00 L395.25,62.50 L395.25,62.00 L395.25,61.50 L395.25,61.00 L395.25,60.50 L395.25,60.00 L395.25,59.50 L395.25,59.00 L395.25,58.50 L395.25,58.00 L395.25,57.50 L395.25,57.00 L395.25,56.50 L395.25,56.00 L395.25,55.50 L395.25,55.00 L395.25,54.50 L395.25,54.00 L395.25,53.50 L395.25,53.00 L395.25,52.50 L395.25,52.00 L395.25,51.50 L395.25,51.00 L395.25,50.50 L395.25,50.00 Z" fill="#5f9e6e" stroke="#4a4a4a" stroke-width="1.70" stroke-linejoin="round"/>
<line x1="394.80" y1="276.90" x2="394.80" y2="385.00" stroke="#4a4a4a" stroke-width="1.7"/>
<line x1="394.80" y1="331.50" x2="394.80" y2="366.00" stroke="#4a4a4a" stroke-width="4.8" stroke-linecap="round"/>
<circle cx="394.80" cy="353.10" r="1.3" fill="#ececec"/>
</g>
<g clip-path="url(#cr)">
<path d="M531.80,50.00 L531.80,50.50 L531.80,51.00 L531.80,51.50 L531.80,52.00 L531.80,52.50 L531.80,53.00 L531.80,53.50 L531.80,54.00 L531.80,54.50 L531.80,55.00 L531.80,55.50 L531.80,56.00 L531.80,56.50 L531.80,57.00 L531.80,57.50 L531.80,58.00 L531.80,58.50 L531.80,59.00 L531.80,59.50 L531.80,60.00 L531.80,60.50 L531.80,61.00 L531.80,61.50 L531.80,62.00 L531.80,62.50 L531.80,63.00 L531.80,63.50 L531.80,64.00 L531.79,64.50 L531.79,65.00 L531.79,65.50 L531.79,66.00 L531.79,66.50 L531.79,67.00 L531.79,67.50 L531.79,68.00 L531.79,68.50 L531.79,69.00 L531.79,69.50 L531.79,70.00 L531.79,70.50 L531.79,71.00 L531.79,71.50 L531.79,72.00 L531.79,72.50 L531.79,73.00 L531.79,73.50 L531.79,74.00 L531.79,74.50 L531.78,75.00 L531.78,75.50 L531.78,76.00 L531.78,76.50 L531.78,77.00 L531.78,77.50 L531.78,78.00 L531.78,78.50 L531.78,79.00 L531.78,79.50 L531.78,80.00 L531.78,80.50 L531.78,81.00 L531.78,81.50 L531.77,82.00 L531.77,82.50 L531.77,83.00 L531.77,83.50 L531.77,84.00 L531.77,84.50 L531.77,85.00 L531.77,85.50 L531.77,86.00 L531.77,86.50 L531.77,87.00 L531.77,87.50 L531.76,88.00 L531.76,88.50 L531.76,89.00 L531.76,89.50 L531.76,90.00 L531.76,90.50 L531.76,91.00 L531.76,91.50 L531.76,92.00 L531.76,92.50 L531.76,93.00 L531.75,93.50 L531.75,94.00 L531.75,94.50 L531.75,95.00 L531.75,95.50 L531.75,96.00 L531.75,96.50 L531.75,97.00 L531.75,97.50 L531.74,98.00 L531.74,98.50 L531.74,99.00 L531.74,99.50 L531.74,100.00 L531.74,100.50 L531.74,101.00 L531.74,101.50 L531.74,102.00 L531.73,102.50 L531.73,103.00 L531.73,103.50 L531.73,104.00 L531.73,104.50 L531.73,105.00 L531.73,105.50 L531.72,106.00 L531.72,106.50 L531.72,107.00 L531.72,107.50 L531.72,108.00 L531.72,108.50 L531.72,109.00 L531.72,109.50 L531.71,110.00 L531.71,110.50 L531.71,111.00 L531.71,111.50 L531.71,112.00 L531.71,112.50 L531.71,113.00 L531.70,113.50 L531.70,114.00 L531.70,114.50 L531.70,115.00 L531.70,115.50 L531.70,116.00 L531.70,116.50 L531.69,117.00 L531.69,117.50 L531.69,118.00 L531.69,118.50 L531.69,119.00 L531.69,119.50 L531.68,120.00 L531.68,120.50 L531.68,121.00 L531.68,121.50 L531.68,122.00 L531.68,122.50 L531.67,123.00 L531.67,123.50 L531.67,124.00 L531.67,124.50 L531.67,125.00 L531.67,125.50 L531.66,126.00 L531.66,126.50 L531.66,127.00 L531.66,127.50 L531.66,128.00 L531.66,128.50 L531.65,129.00 L531.65,129.50 L531.65,130.00 L531.65,130.50 L531.64,131.00 L531.64,131.50 L531.64,132.00 L531.64,132.50 L531.63,133.00 L531.63,133.50 L531.63,134.00 L531.62,134.50 L531.62,135.00 L531.62,135.50 L531.61,136.00 L531.61,136.50 L531.60,137.00 L531.60,137.50 L531.59,138.00 L531.59,138.50 L531.58,139.00 L531.58,139.50 L531.57,140.00 L531.57,140.50 L531.56,141.00 L531.56,141.50 L531.55,142.00 L531.55,142.50 L531.54,143.00 L531.53,143.50 L531.53,144.00 L531.52,144.50 L531.51,145.00 L531.51,145.50 L531.50,146.00 L531.49,146.50 L531.49,147.00 L531.48,147.50 L531.47,148.00 L531.47,148.50 L531.46,149.00 L531.45,149.50 L531.45,150.00 L531.44,150.50 L531.43,151.00 L531.42,151.50 L531.42,152.00 L531.41,152.50 L531.40,153.00 L531.39,153.50 L531.39,154.00 L531.38,154.50 L531.37,155.00 L531.37,155.50 L531.36,156.00 L531.35,156.50 L531.34,157.00 L531.34,157.50 L531.33,158.00 L531.32,158.50 L531.31,159.00 L531.31,159.50 L531.30,160.00 L531.29,160.50 L531.29,161.00 L531.28,161.50 L531.27,162.00 L531.26,162.50 L531.26,163.00 L531.25,163.50 L531.24,164.00 L531.24,164.50 L531.23,165.00 L531.22,165.50 L531.21,166.00 L531.21,166.50 L531.20,167.00 L531.19,167.50 L531.18,168.00 L531.18,168.50 L531.17,169.00 L531.16,169.50 L531.15,170.00 L531.14,170.50 L531.13,171.00 L531.13,171.50 L531.12,172.00 L531.11,172.50 L531.10,173.00 L531.09,173.50 L531.08,174.00 L531.07,174.50 L531.06,175.00 L531.05,175.50 L531.04,176.00 L531.03,176.50 L531.02,177.00 L531.01,177.50 L531.00,178.00 L530.98,178.50 L530.97,179.00 L530.96,179.50 L530.95,180.00 L530.93,180.50 L530.92,181.00 L530.90,181.50 L530.89,182.00 L530.87,182.50 L530.85,183.00 L530.84,183.50 L530.82,184.00 L530.80,184.50 L530.78,185.00 L530.76,185.50 L530.74,186.00 L530.72,186.50 L530.69,187.00 L530.67,187.50 L530.65,188.00 L530.63,188.50 L530.61,189.00 L530.58,189.50 L530.56,190.00 L530.54,190.50 L530.52,191.00 L530.50,191.50 L530.47,192.00 L530.45,192.50 L530.43,193.00 L530.41,193.50 L530.39,194.00 L530.36,194.50 L530.34,195.00 L530.32,195.50 L530.30,196.00 L530.28,196.50 L530.25,197.00 L530.23,197.50 L530.21,198.00 L530.19,198.50 L530.16,199.00 L530.14,199.50 L530.11,200.00 L530.09,200.50 L530.06,201.00 L530.04,201.50 L530.01,202.00 L529.99,202.50 L529.96,203.00 L529.93,203.50 L529.90,204.00 L529.87,204.50 L529.84,205.00 L529.81,205.50 L529.78,206.00 L529.75,206.50 L529.71,207.00 L529.67,207.50 L529.64,208.00 L529.60,208.50 L529.56,209.00 L529.52,209.50 L529.48,210.00 L529.44,210.50 L529.40,211.00 L529.36,211.50 L529.32,212.00 L529.27,212.50 L529.23,213.00 L529.19,213.50 L529.14,214.00 L529.10,214.50 L529.06,215.00 L529.02,215.50 L528.97,216.00 L528.93,216.50 L528.89,217.00 L528.85,217.50 L528.80,218.00 L528.76,218.50 L528.72,219.00 L528.67,219.50 L528.63,220.00 L528.58,220.50 L528.54,221.00 L528.49,221.50 L528.45,222.00 L528.40,222.50 L528.36,223.00 L528.31,223.50 L528.27,224.00 L528.22,224.50 L528.18,225.00 L528.14,225.50 L528.10,226.00 L528.06,226.50 L528.03,227.00 L528.00,227.50 L527.97,228.00 L527.94,228.50 L527.91,229.00 L527.89,229.50 L527.86,230.00 L527.84,230.50 L527.82,231.00 L527.81,231.50 L527.79,232.00 L527.77,232.50 L527.76,233.00 L527.75,233.50 L527.73,234.00 L527.72,234.50 L527.71,235.00 L527.70,235.50 L527.69,236.00 L527.68,236.50 L527.67,237.00 L527.66,237.50 L527.64,238.00 L527.63,238.50 L527.62,239.00 L527.61,239.50 L527.60,240.00 L527.59,240.50 L527.58,241.00 L527.57,241.50 L527.56,242.00 L527.55,242.50 L527.54,243.00 L527.53,243.50 L527.52,244.00 L527.51,244.50 L527.50,245.00 L527.48,245.50 L527.47,246.00 L527.46,246.50 L527.45,247.00 L527.44,247.50 L527.43,248.00 L527.42,248.50 L527.41,249.00 L527.40,249.50 L527.39,250.00 L527.38,250.50 L527.36,251.00 L527.35,251.50 L527.34,252.00 L527.32,252.50 L527.31,253.00 L527.29,253.50 L527.28,254.00 L527.26,254.50 L527.24,255.00 L527.22,255.50 L527.20,256.00 L527.18,256.50 L527.16,257.00 L527.13,257.50 L527.11,258.00 L527.08,258.50 L527.05,259.00 L527.02,259.50 L526.99,260.00 L526.96,260.50 L526.93,261.00 L526.90,261.50 L526.86,262.00 L526.83,262.50 L526.79,263.00 L526.75,263.50 L526.72,264.00 L526.68,264.50 L526.64,265.00 L526.60,265.50 L526.57,266.00 L526.53,266.50 L526.49,267.00 L526.45,267.50 L526.40,268.00 L526.36,268.50 L526.32,269.00 L526.28,269.50 L526.23,270.00 L526.18,270.50 L526.14,271.00 L526.09,271.50 L526.03,272.00 L525.98,272.50 L525.92,273.00 L525.87,273.50 L525.80,274.00 L525.74,274.50 L525.68,275.00 L525.61,275.50 L525.54,276.00 L525.46,276.50 L525.38,277.00 L525.30,277.50 L525.21,278.00 L525.11,278.50 L525.01,279.00 L524.90,279.50 L524.79,280.00 L524.66,280.50 L524.52,281.00 L524.38,281.50 L524.22,282.00 L524.06,282.50 L523.89,283.00 L523.71,283.50 L523.52,284.00 L523.33,284.50 L523.14,285.00 L522.93,285.50 L522.73,286.00 L522.52,286.50 L522.31,287.00 L522.09,287.50 L521.87,288.00 L521.64,288.50 L521.41,289.00 L521.18,289.50 L520.94,290.00 L520.71,290.50 L520.47,291.00 L520.23,291.50 L519.99,292.00 L519.75,292.50 L519.51,293.00 L519.27,293.50 L519.03,294.00 L518.79,294.50 L518.55,295.00 L518.31,295.50 L518.07,296.00 L517.83,296.50 L517.59,297.00 L517.35,297.50 L517.11,298.00 L516.87,298.50 L516.64,299.00 L516.40,299.50 L516.17,300.00 L515.93,300.50 L515.70,301.00 L515.47,301.50 L515.23,302.00 L515.00,302.50 L514.77,303.00 L514.54,303.50 L514.31,304.00 L514.08,304.50 L513.86,305.00 L513.63,305.50 L513.41,306.00 L513.18,306.50 L512.96,307.00 L512.73,307.50 L512.51,308.00 L512.29,308.50 L512.06,309.00 L511.84,309.50 L511.61,310.00 L511.38,310.50 L511.16,311.00 L510.93,311.50 L510.70,312.00 L510.46,312.50 L510.23,313.00 L509.99,313.50 L509.76,314.00 L509.52,314.50 L509.28,315.00 L509.03,315.50 L508.78,316.00 L508.53,316.50 L508.27,317.00 L508.01,317.50 L507.75,318.00 L507.48,318.50 L507.21,319.00 L506.93,319.50 L506.65,320.00 L506.37,320.50 L506.09,321.00 L505.81,321.50 L505.53,322.00 L505.25,322.50 L504.98,323.00 L504.71,323.50 L504.44,324.00 L504.18,324.50 L503.92,325.00 L503.66,325.50 L503.41,326.00 L503.16,326.50 L502.92,327.00 L502.68,327.50 L502.45,328.00 L502.23,328.50 L502.02,329.00 L501.81,329.50 L501.61,330.00 L501.42,330.50 L501.24,331.00 L501.07,331.50 L500.90,332.00 L500.74,332.50 L500.58,333.00 L500.42,333.50 L500.26,334.00 L500.10,334.50 L499.94,335.00 L499.78,335.50 L499.62,336.00 L499.46,336.50 L499.29,337.00 L499.12,337.50 L498.95,338.00 L498.77,338.50 L498.58,339.00 L498.39,339.50 L498.19,340.00 L497.98,340.50 L497.76,341.00 L497.54,341.50 L497.30,342.00 L497.06,342.50 L496.81,343.00 L496.55,343.50 L496.28,344.00 L496.00,344.50 L495.72,345.00 L495.42,345.50 L495.11,346.00 L494.80,346.50 L494.47,347.00 L494.13,347.50 L493.78,348.00 L493.43,348.50 L493.06,349.00 L492.69,349.50 L492.30,350.00 L491.92,350.50 L491.53,351.00 L491.13,351.50 L490.73,352.00 L490.33,352.50 L489.93,353.00 L489.53,353.50 L489.13,354.00 L488.73,354.50 L488.33,355.00 L487.93,355.50 L487.55,356.00 L487.16,356.50 L486.79,357.00 L486.42,357.50 L486.07,358.00 L485.73,358.50 L485.40,359.00 L485.08,359.50 L484.78,360.00 L484.50,360.50 L484.24,361.00 L484.00,361.50 L483.79,362.00 L483.61,362.50 L483.46,363.00 L483.34,363.50 L483.25,364.00 L483.19,364.50 L483.16,365.00 L483.16,365.50 L483.20,366.00 L483.27,366.50 L483.37,367.00 L483.52,367.50 L483.70,368.00 L483.92,368.50 L484.18,369.00 L484.48,369.50 L484.82,370.00 L485.19,370.50 L485.61,371.00 L486.07,371.50 L486.57,372.00 L487.11,372.50 L487.71,373.00 L488.37,373.50 L489.08,374.00 L489.86,374.50 L490.70,375.00 L491.60,375.50 L492.56,376.00 L493.56,376.50 L494.60,377.00 L495.66,377.50 L496.75,378.00 L497.85,378.50 L498.95,379.00 L500.04,379.50 L501.12,380.00 L502.16,380.50 L503.16,381.00 L504.09,381.50 L504.93,382.00 L505.66,382.50 L506.28,383.00 L557.72,383.00 L558.34,382.50 L559.07,382.00 L559.91,381.50 L560.84,381.00 L561.84,380.50 L562.88,380.00 L563.96,379.50 L565.05,379.00 L566.15,378.50 L567.25,378.00 L568.34,377.50 L569.40,377.00 L570.44,376.50 L571.44,376.00 L572.40,375.50 L573.30,375.00 L574.14,374.50 L574.92,374.00 L575.63,373.50 L576.29,373.00 L576.89,372.50 L577.43,372.00 L577.93,371.50 L578.39,371.00 L578.81,370.50 L579.18,370.00 L579.52,369.50 L579.82,369.00 L580.08,368.50 L580.30,368.00 L580.48,367.50 L580.63,367.00 L580.73,366.50 L580.80,366.00 L580.84,365.50 L580.84,365.00 L580.81,364.50 L580.75,364.00 L580.66,363.50 L580.54,363.00 L580.39,362.50 L580.21,362.00 L580.00,361.50 L579.76,361.00 L579.50,360.50 L579.22,360.00 L578.92,359.50 L578.60,359.00 L578.27,358.50 L577.93,358.00 L577.58,357.50 L577.21,357.00 L576.84,356.50 L576.45,356.00 L576.07,355.50 L575.67,355.00 L575.27,354.50 L574.87,354.00 L574.47,353.50 L574.07,353.00 L573.67,352.50 L573.27,352.00 L572.87,351.50 L572.47,351.00 L572.08,350.50 L571.70,350.00 L571.31,349.50 L570.94,349.00 L570.57,348.50 L570.22,348.00 L569.87,347.50 L569.53,347.00 L569.20,346.50 L568.89,346.00 L568.58,345.50 L568.28,345.00 L568.00,344.50 L567.72,344.00 L567.45,343.50 L567.19,343.00 L566.94,342.50 L566.70,342.00 L566.46,341.50 L566.24,341.00 L566.02,340.50 L565.81,340.00 L565.61,339.50 L565.42,339.00 L565.23,338.50 L565.05,338.00 L564.88,337.50 L564.71,337.00 L564.54,336.50 L564.38,336.00 L564.22,335.50 L564.06,335.00 L563.90,334.50 L563.74,334.00 L563.58,333.50 L563.42,333.00 L563.26,332.50 L563.10,332.00 L562.93,331.50 L562.76,331.00 L562.58,330.50 L562.39,330.00 L562.19,329.50 L561.98,329.00 L561.77,328.50 L561.55,328.00 L561.32,327.50 L561.08,327.00 L560.84,326.50 L560.59,326.00 L560.34,325.50 L560.08,325.00 L559.82,324.50 L559.56,324.00 L559.29,323.50 L559.02,323.00 L558.75,322.50 L558.47,322.00 L558.19,321.50 L557.91,321.00 L557.63,320.50 L557.35,320.00 L557.07,319.50 L556.79,319.00 L556.52,318.50 L556.25,318.00 L555.99,317.50 L555.73,317.00 L555.47,316.50 L555.22,316.00 L554.97,315.50 L554.72,315.00 L554.48,314.50 L554.24,314.00 L554.01,313.50 L553.77,313.00 L553.54,312.50 L553.30,312.00 L553.07,311.50 L552.84,311.00 L552.62,310.50 L552.39,310.00 L552.16,309.50 L551.94,309.00 L551.71,308.50 L551.49,308.00 L551.27,307.50 L551.04,307.00 L550.82,306.50 L550.59,306.00 L550.37,305.50 L550.14,305.00 L549.92,304.50 L549.69,304.00 L549.46,303.50 L549.23,303.00 L549.00,302.50 L548.77,302.00 L548.53,301.50 L548.30,301.00 L548.07,300.50 L547.83,300.00 L547.60,299.50 L547.36,299.00 L547.13,298.50 L546.89,298.00 L546.65,297.50 L546.41,297.00 L546.17,296.50 L545.93,296.00 L545.69,295.50 L545.45,295.00 L545.21,294.50 L544.97,294.00 L544.73,293.50 L544.49,293.00 L544.25,292.50 L544.01,292.00 L543.77,291.50 L543.53,291.00 L543.29,290.50 L543.06,290.00 L542.82,289.50 L542.59,289.00 L542.36,288.50 L542.13,288.00 L541.91,287.50 L541.69,287.00 L541.48,286.50 L541.27,286.00 L541.07,285.50 L540.86,285.00 L540.67,284.50 L540.48,284.00 L540.29,283.50 L540.11,283.00 L539.94,282.50 L539.78,282.00 L539.62,281.50 L539.48,281.00 L539.34,280.50 L539.21,280.00 L539.10,279.50 L538.99,279.00 L538.89,278.50 L538.79,278.00 L538.70,277.50 L538.62,277.00 L538.54,276.50 L538.46,276.00 L538.39,275.50 L538.32,275.00 L538.26,274.50 L538.20,274.00 L538.13,273.50 L538.08,273.00 L538.02,272.50 L537.97,272.00 L537.91,271.50 L537.86,271.00 L537.82,270.50 L537.77,270.00 L537.72,269.50 L537.68,269.00 L537.64,268.50 L537.60,268.00 L537.55,267.50 L537.51,267.00 L537.47,266.50 L537.43,266.00 L537.40,265.50 L537.36,265.00 L537.32,264.50 L537.28,264.00 L537.25,263.50 L537.21,263.00 L537.17,262.50 L537.14,262.00 L537.10,261.50 L537.07,261.00 L537.04,260.50 L537.01,260.00 L536.98,259.50 L536.95,259.00 L536.92,258.50 L536.89,258.00 L536.87,257.50 L536.84,257.00 L536.82,256.50 L536.80,256.00 L536.78,255.50 L536.76,255.00 L536.74,254.50 L536.72,254.00 L536.71,253.50 L536.69,253.00 L536.68,252.50 L536.66,252.00 L536.65,251.50 L536.64,251.00 L536.62,250.50 L536.61,250.00 L536.60,249.50 L536.59,249.00 L536.58,248.50 L536.57,248.00 L536.56,247.50 L536.55,247.00 L536.54,246.50 L536.53,246.00 L536.52,245.50 L536.50,245.00 L536.49,244.50 L536.48,244.00 L536.47,243.50 L536.46,243.00 L536.45,242.50 L536.44,242.00 L536.43,241.50 L536.42,241.00 L536.41,240.50 L536.40,240.00 L536.39,239.50 L536.38,239.00 L536.37,238.50 L536.36,238.00 L536.34,237.50 L536.33,237.00 L536.32,236.50 L536.31,236.00 L536.30,235.50 L536.29,235.00 L536.28,234.50 L536.27,234.00 L536.25,233.50 L536.24,233.00 L536.23,232.50 L536.21,232.00 L536.19,231.50 L536.18,231.00 L536.16,230.50 L536.14,230.00 L536.11,229.50 L536.09,229.00 L536.06,228.50 L536.03,228.00 L536.00,227.50 L535.97,227.00 L535.94,226.50 L535.90,226.00 L535.86,225.50 L535.82,225.00 L535.78,224.50 L535.73,224.00 L535.69,223.50 L535.64,223.00 L535.60,222.50 L535.55,222.00 L535.51,221.50 L535.46,221.00 L535.42,220.50 L535.37,220.00 L535.33,219.50 L535.28,219.00 L535.24,218.50 L535.20,218.00 L535.15,217.50 L535.11,217.00 L535.07,216.50 L535.03,216.00 L534.98,215.50 L534.94,215.00 L534.90,214.50 L534.86,214.00 L534.81,213.50 L534.77,213.00 L534.73,212.50 L534.68,212.00 L534.64,211.50 L534.60,211.00 L534.56,210.50 L534.52,210.00 L534.48,209.50 L534.44,209.00 L534.40,208.50 L534.36,208.00 L534.33,207.50 L534.29,207.00 L534.25,206.50 L534.22,206.00 L534.19,205.50 L534.16,205.00 L534.13,204.50 L534.10,204.00 L534.07,203.50 L534.04,203.00 L534.01,202.50 L533.99,202.00 L533.96,201.50 L533.94,201.00 L533.91,200.50 L533.89,200.00 L533.86,199.50 L533.84,199.00 L533.81,198.50 L533.79,198.00 L533.77,197.50 L533.75,197.00 L533.72,196.50 L533.70,196.00 L533.68,195.50 L533.66,195.00 L533.64,194.50 L533.61,194.00 L533.59,193.50 L533.57,193.00 L533.55,192.50 L533.53,192.00 L533.50,191.50 L533.48,191.00 L533.46,190.50 L533.44,190.00 L533.42,189.50 L533.39,189.00 L533.37,188.50 L533.35,188.00 L533.33,187.50 L533.31,187.00 L533.28,186.50 L533.26,186.00 L533.24,185.50 L533.22,185.00 L533.20,184.50 L533.18,184.00 L533.16,183.50 L533.15,183.00 L533.13,182.50 L533.11,182.00 L533.10,181.50 L533.08,181.00 L533.07,180.50 L533.05,180.00 L533.04,179.50 L533.03,179.00 L533.02,178.50 L533.00,178.00 L532.99,177.50 L532.98,177.00 L532.97,176.50 L532.96,176.00 L532.95,175.50 L532.94,175.00 L532.93,174.50 L532.92,174.00 L532.91,173.50 L532.90,173.00 L532.89,172.50 L532.88,172.00 L532.87,171.50 L532.87,171.00 L532.86,170.50 L532.85,170.00 L532.84,169.50 L532.83,169.00 L532.82,168.50 L532.82,168.00 L532.81,167.50 L532.80,167.00 L532.79,166.50 L532.79,166.00 L532.78,165.50 L532.77,165.00 L532.76,164.50 L532.76,164.00 L532.75,163.50 L532.74,163.00 L532.74,162.50 L532.73,162.00 L532.72,161.50 L532.71,161.00 L532.71,160.50 L532.70,160.00 L532.69,159.50 L532.69,159.00 L532.68,158.50 L532.67,158.00 L532.66,157.50 L532.66,157.00 L532.65,156.50 L532.64,156.00 L532.63,155.50 L532.63,155.00 L532.62,154.50 L532.61,154.00 L532.61,153.50 L532.60,153.00 L532.59,152.50 L532.58,152.00 L532.58,151.50 L532.57,151.00 L532.56,150.50 L532.55,150.00 L532.55,149.50 L532.54,149.00 L532.53,148.50 L532.53,148.00 L532.52,147.50 L532.51,147.00 L532.51,146.50 L532.50,146.00 L532.49,145.50 L532.49,145.00 L532.48,144.50 L532.47,144.00 L532.47,143.50 L532.46,143.00 L532.45,142.50 L532.45,142.00 L532.44,141.50 L532.44,141.00 L532.43,140.50 L532.43,140.00 L532.42,139.50 L532.42,139.00 L532.41,138.50 L532.41,138.00 L532.40,137.50 L532.40,137.00 L532.39,136.50 L532.39,136.00 L532.38,135.50 L532.38,135.00 L532.38,134.50 L532.37,134.00 L532.37,133.50 L532.37,133.00 L532.36,132.50 L532.36,132.00 L532.36,131.50 L532.36,131.00 L532.35,130.50 L532.35,130.00 L532.35,129.50 L532.35,129.00 L532.34,128.50 L532.34,128.00 L532.34,127.50 L532.34,127.00 L532.34,126.50 L532.34,126.00 L532.33,125.50 L532.33,125.00 L532.33,124.50 L532.33,124.00 L532.33,123.50 L532.33,123.00 L532.32,122.50 L532.32,122.00 L532.32,121.50 L532.32,121.00 L532.32,120.50 L532.32,120.00 L532.31,119.50 L532.31,119.00 L532.31,118.50 L532.31,118.00 L532.31,117.50 L532.31,117.00 L532.30,116.50 L532.30,116.00 L532.30,115.50 L532.30,115.00 L532.30,114.50 L532.30,114.00 L532.30,113.50 L532.29,113.00 L532.29,112.50 L532.29,112.00 L532.29,111.50 L532.29,111.00 L532.29,110.50 L532.29,110.00 L532.28,109.50 L532.28,109.00 L532.28,108.50 L532.28,108.00 L532.28,107.50 L532.28,107.00 L532.28,106.50 L532.28,106.00 L532.27,105.50 L532.27,105.00 L532.27,104.50 L532.27,104.00 L532.27,103.50 L532.27,103.00 L532.27,102.50 L532.26,102.00 L532.26,101.50 L532.26,101.00 L532.26,100.50 L532.26,100.00 L532.26,99.50 L532.26,99.00 L532.26,98.50 L532.26,98.00 L532.25,97.50 L532.25,97.00 L532.25,96.50 L532.25,96.00 L532.25,95.50 L532.25,95.00 L532.25,94.50 L532.25,94.00 L532.25,93.50 L532.24,93.00 L532.24,92.50 L532.24,92.00 L532.24,91.50 L532.24,91.00 L532.24,90.50 L532.24,90.00 L532.24,89.50 L532.24,89.00 L532.24,88.50 L532.24,88.00 L532.23,87.50 L532.23,87.00 L532.23,86.50 L532.23,86.00 L532.23,85.50 L532.23,85.00 L532.23,84.50 L532.23,84.00 L532.23,83.50 L532.23,83.00 L532.23,82.50 L532.23,82.00 L532.22,81.50 L532.22,81.00 L532.22,80.50 L532.22,80.00 L532.22,79.50 L532.22,79.00 L532.22,78.50 L532.22,78.00 L532.22,77.50 L532.22,77.00 L532.22,76.50 L532.22,76.00 L532.22,75.50 L532.22,75.00 L532.21,74.50 L532.21,74.00 L532.21,73.50 L532.21,73.00 L532.21,72.50 L532.21,72.00 L532.21,71.50 L532.21,71.00 L532.21,70.50 L532.21,70.00 L532.21,69.50 L532.21,69.00 L532.21,68.50 L532.21,68.00 L532.21,67.50 L532.21,67.00 L532.21,66.50 L532.21,66.00 L532.21,65.50 L532.21,65.00 L532.21,64.50 L532.20,64.00 L532.20,63.50 L532.20,63.00 L532.20,62.50 L532.20,62.00 L532.20,61.50 L532.20,61.00 L532.20,60.50 L532.20,60.00 L532.20,59.50 L532.20,59.00 L532.20,58.50 L532.20,58.00 L532.20,57.50 L532.20,57.00 L532.20,56.50 L532.20,56.00 L532.20,55.50 L532.20,55.00 L532.20,54.50 L532.20,54.00 L532.20,53.50 L532.20,53.00 L532.20,52.50 L532.20,52.00 L532.20,51.50 L532.20,51.00 L532.20,50.50 L532.20,50.00 Z" fill="#5875a4" stroke="#4a4a4a" stroke-width="1.70" stroke-linejoin="round"/>
<line x1="531.80" y1="233.00" x2="531.80" y2="385.00" stroke="#4a4a4a" stroke-width="1.7"/>
<line x1="531.80" y1="314.00" x2="531.80" y2="367.25" stroke="#4a4a4a" stroke-width="4.8" stroke-linecap="round"/>
<circle cx="531.80" cy="344.00" r="1.3" fill="#ececec"/>
<path d="M625.45,48.00 L625.45,48.50 L625.45,49.00 L625.45,49.50 L625.45,50.00 L625.45,50.50 L625.45,51.00 L625.45,51.50 L625.46,52.00 L625.46,52.50 L625.47,53.00 L625.49,53.50 L625.50,54.00 L625.53,54.50 L625.55,55.00 L625.59,55.50 L625.63,56.00 L625.68,56.50 L625.74,57.00 L625.80,57.50 L625.88,58.00 L625.97,58.50 L626.09,59.00 L626.22,59.50 L626.38,60.00 L626.56,60.50 L626.78,61.00 L627.03,61.50 L627.30,62.00 L627.60,62.50 L627.93,63.00 L628.28,63.50 L628.65,64.00 L629.04,64.50 L629.45,65.00 L629.88,65.50 L630.32,66.00 L630.78,66.50 L631.25,67.00 L631.72,67.50 L632.21,68.00 L632.70,68.50 L633.20,69.00 L633.69,69.50 L634.18,70.00 L634.66,70.50 L635.13,71.00 L635.59,71.50 L636.03,72.00 L636.47,72.50 L636.90,73.00 L637.31,73.50 L637.71,74.00 L638.10,74.50 L638.47,75.00 L638.84,75.50 L639.19,76.00 L639.53,76.50 L639.86,77.00 L640.17,77.50 L640.48,78.00 L640.77,78.50 L641.05,79.00 L641.32,79.50 L641.57,80.00 L641.82,80.50 L642.05,81.00 L642.28,81.50 L642.49,82.00 L642.70,82.50 L642.90,83.00 L643.08,83.50 L643.26,84.00 L643.44,84.50 L643.60,85.00 L643.75,85.50 L643.90,86.00 L644.03,86.50 L644.16,87.00 L644.28,87.50 L644.38,88.00 L644.48,88.50 L644.56,89.00 L644.64,89.50 L644.71,90.00 L644.77,90.50 L644.82,91.00 L644.87,91.50 L644.91,92.00 L644.94,92.50 L644.97,93.00 L645.00,93.50 L645.02,94.00 L645.04,94.50 L645.05,95.00 L645.07,95.50 L645.08,96.00 L645.09,96.50 L645.10,97.00 L645.11,97.50 L645.13,98.00 L645.14,98.50 L645.15,99.00 L645.16,99.50 L645.18,100.00 L645.19,100.50 L645.21,101.00 L645.23,101.50 L645.25,102.00 L645.27,102.50 L645.30,103.00 L645.33,103.50 L645.37,104.00 L645.41,104.50 L645.45,105.00 L645.49,105.50 L645.54,106.00 L645.59,106.50 L645.65,107.00 L645.70,107.50 L645.76,108.00 L645.82,108.50 L645.88,109.00 L645.94,109.50 L646.00,110.00 L646.06,110.50 L646.12,111.00 L646.18,111.50 L646.24,112.00 L646.29,112.50 L646.35,113.00 L646.40,113.50 L646.45,114.00 L646.49,114.50 L646.54,115.00 L646.59,115.50 L646.63,116.00 L646.67,116.50 L646.72,117.00 L646.76,117.50 L646.80,118.00 L646.84,118.50 L646.89,119.00 L646.93,119.50 L646.97,120.00 L647.01,120.50 L647.05,121.00 L647.08,121.50 L647.12,122.00 L647.15,122.50 L647.18,123.00 L647.21,123.50 L647.23,124.00 L647.26,124.50 L647.28,125.00 L647.29,125.50 L647.31,126.00 L647.32,126.50 L647.33,127.00 L647.34,127.50 L647.34,128.00 L647.34,128.50 L647.34,129.00 L647.34,129.50 L647.34,130.00 L647.34,130.50 L647.34,131.00 L647.34,131.50 L647.33,132.00 L647.33,132.50 L647.33,133.00 L647.32,133.50 L647.32,134.00 L647.32,134.50 L647.31,135.00 L647.31,135.50 L647.30,136.00 L647.29,136.50 L647.29,137.00 L647.28,137.50 L647.27,138.00 L647.26,138.50 L647.25,139.00 L647.23,139.50 L647.21,140.00 L647.18,140.50 L647.14,141.00 L647.10,141.50 L647.05,142.00 L646.99,142.50 L646.92,143.00 L646.84,143.50 L646.75,144.00 L646.66,144.50 L646.57,145.00 L646.47,145.50 L646.36,146.00 L646.25,146.50 L646.14,147.00 L646.03,147.50 L645.92,148.00 L645.81,148.50 L645.71,149.00 L645.60,149.50 L645.50,150.00 L645.41,150.50 L645.32,151.00 L645.23,151.50 L645.15,152.00 L645.07,152.50 L645.00,153.00 L644.93,153.50 L644.86,154.00 L644.79,154.50 L644.73,155.00 L644.66,155.50 L644.60,156.00 L644.54,156.50 L644.48,157.00 L644.41,157.50 L644.36,158.00 L644.30,158.50 L644.25,159.00 L644.19,159.50 L644.14,160.00 L644.10,160.50 L644.06,161.00 L644.02,161.50 L643.99,162.00 L643.96,162.50 L643.93,163.00 L643.91,163.50 L643.89,164.00 L643.88,164.50 L643.87,165.00 L643.86,165.50 L643.86,166.00 L643.85,166.50 L643.85,167.00 L643.85,167.50 L643.85,168.00 L643.85,168.50 L643.85,169.00 L643.86,169.50 L643.86,170.00 L643.87,170.50 L643.89,171.00 L643.91,171.50 L643.93,172.00 L643.96,172.50 L644.00,173.00 L644.05,173.50 L644.10,174.00 L644.15,174.50 L644.21,175.00 L644.28,175.50 L644.35,176.00 L644.42,176.50 L644.49,177.00 L644.57,177.50 L644.65,178.00 L644.74,178.50 L644.82,179.00 L644.91,179.50 L645.00,180.00 L645.10,180.50 L645.19,181.00 L645.28,181.50 L645.38,182.00 L645.47,182.50 L645.56,183.00 L645.64,183.50 L645.72,184.00 L645.81,184.50 L645.88,185.00 L645.96,185.50 L646.04,186.00 L646.11,186.50 L646.17,187.00 L646.24,187.50 L646.29,188.00 L646.34,188.50 L646.38,189.00 L646.41,189.50 L646.43,190.00 L646.43,190.50 L646.41,191.00 L646.38,191.50 L646.33,192.00 L646.26,192.50 L646.18,193.00 L646.09,193.50 L645.99,194.00 L645.88,194.50 L645.77,195.00 L645.66,195.50 L645.55,196.00 L645.45,196.50 L645.36,197.00 L645.26,197.50 L645.18,198.00 L645.09,198.50 L645.01,199.00 L644.93,199.50 L644.85,200.00 L644.77,200.50 L644.69,201.00 L644.60,201.50 L644.52,202.00 L644.43,202.50 L644.34,203.00 L644.25,203.50 L644.16,204.00 L644.07,204.50 L643.97,205.00 L643.87,205.50 L643.77,206.00 L643.67,206.50 L643.56,207.00 L643.46,207.50 L643.35,208.00 L643.24,208.50 L643.13,209.00 L643.02,209.50 L642.91,210.00 L642.80,210.50 L642.68,211.00 L642.56,211.50 L642.44,212.00 L642.32,212.50 L642.20,213.00 L642.07,213.50 L641.95,214.00 L641.82,214.50 L641.69,215.00 L641.57,215.50 L641.43,216.00 L641.30,216.50 L641.17,217.00 L641.03,217.50 L640.90,218.00 L640.76,218.50 L640.61,219.00 L640.47,219.50 L640.32,220.00 L640.16,220.50 L640.00,221.00 L639.84,221.50 L639.67,222.00 L639.50,222.50 L639.32,223.00 L639.14,223.50 L638.95,224.00 L638.75,224.50 L638.54,225.00 L638.32,225.50 L638.09,226.00 L637.85,226.50 L637.59,227.00 L637.32,227.50 L637.03,228.00 L636.72,228.50 L636.39,229.00 L636.04,229.50 L635.68,230.00 L635.31,230.50 L634.93,231.00 L634.54,231.50 L634.15,232.00 L633.76,232.50 L633.37,233.00 L632.98,233.50 L632.59,234.00 L632.21,234.50 L631.83,235.00 L631.46,235.50 L631.08,236.00 L630.71,236.50 L630.34,237.00 L629.97,237.50 L629.61,238.00 L629.24,238.50 L628.87,239.00 L628.50,239.50 L628.13,240.00 L627.76,240.50 L627.39,241.00 L627.02,241.50 L626.66,242.00 L626.31,242.50 L625.97,243.00 L625.65,243.50 L625.34,244.00 L625.05,244.50 L624.78,245.00 L624.53,245.50 L624.30,246.00 L624.08,246.50 L623.89,247.00 L623.72,247.50 L623.57,248.00 L623.45,248.50 L623.35,249.00 L623.29,249.50 L623.24,250.00 L623.23,250.50 L623.24,251.00 L623.27,251.50 L623.32,252.00 L623.39,252.50 L623.47,253.00 L623.58,253.50 L623.70,254.00 L623.84,254.50 L623.99,255.00 L624.17,255.50 L624.37,256.00 L624.60,256.50 L624.84,257.00 L625.11,257.50 L625.41,258.00 L625.72,258.50 L626.05,259.00 L626.41,259.50 L626.78,260.00 L627.17,260.50 L627.59,261.00 L628.02,261.50 L628.46,262.00 L628.92,262.50 L629.40,263.00 L629.88,263.50 L630.36,264.00 L630.85,264.50 L631.35,265.00 L631.84,265.50 L632.33,266.00 L632.82,266.50 L633.31,267.00 L633.79,267.50 L634.27,268.00 L634.73,268.50 L635.19,269.00 L635.63,269.50 L636.06,270.00 L636.47,270.50 L636.88,271.00 L637.26,271.50 L637.64,272.00 L638.00,272.50 L638.34,273.00 L638.66,273.50 L638.97,274.00 L639.27,274.50 L639.54,275.00 L639.80,275.50 L640.04,276.00 L640.27,276.50 L640.49,277.00 L640.69,277.50 L640.87,278.00 L641.04,278.50 L641.20,279.00 L641.34,279.50 L641.47,280.00 L641.59,280.50 L641.70,281.00 L641.80,281.50 L641.88,282.00 L641.96,282.50 L642.02,283.00 L642.07,283.50 L642.11,284.00 L642.14,284.50 L642.15,285.00 L642.15,285.50 L642.13,286.00 L642.10,286.50 L642.07,287.00 L642.02,287.50 L641.96,288.00 L641.90,288.50 L641.84,289.00 L641.77,289.50 L641.70,290.00 L641.62,290.50 L641.55,291.00 L641.47,291.50 L641.40,292.00 L641.32,292.50 L641.24,293.00 L641.16,293.50 L641.08,294.00 L640.99,294.50 L640.91,295.00 L640.82,295.50 L640.74,296.00 L640.65,296.50 L640.56,297.00 L640.47,297.50 L640.38,298.00 L640.29,298.50 L640.20,299.00 L640.11,299.50 L640.02,300.00 L639.92,300.50 L639.83,301.00 L639.74,301.50 L639.64,302.00 L639.55,302.50 L639.46,303.00 L639.36,303.50 L639.27,304.00 L639.17,304.50 L639.08,305.00 L638.98,305.50 L638.89,306.00 L638.79,306.50 L638.69,307.00 L638.60,307.50 L638.50,308.00 L638.40,308.50 L638.30,309.00 L638.20,309.50 L638.10,310.00 L638.00,310.50 L637.90,311.00 L637.79,311.50 L637.68,312.00 L637.56,312.50 L637.44,313.00 L637.31,313.50 L637.16,314.00 L637.01,314.50 L636.84,315.00 L636.65,315.50 L636.44,316.00 L636.22,316.50 L635.98,317.00 L635.73,317.50 L635.46,318.00 L635.17,318.50 L634.87,319.00 L634.56,319.50 L634.24,320.00 L633.90,320.50 L633.55,321.00 L633.20,321.50 L632.83,322.00 L632.45,322.50 L632.05,323.00 L631.64,323.50 L631.22,324.00 L630.79,324.50 L630.35,325.00 L629.90,325.50 L629.43,326.00 L628.96,326.50 L628.48,327.00 L627.99,327.50 L627.48,328.00 L626.97,328.50 L626.45,329.00 L625.92,329.50 L625.38,330.00 L624.83,330.50 L624.27,331.00 L623.71,331.50 L623.15,332.00 L622.57,332.50 L622.00,333.00 L621.42,333.50 L620.84,334.00 L620.26,334.50 L619.68,335.00 L619.09,335.50 L618.50,336.00 L617.91,336.50 L617.31,337.00 L616.72,337.50 L616.12,338.00 L615.53,338.50 L614.94,339.00 L614.34,339.50 L613.75,340.00 L613.17,340.50 L612.59,341.00 L612.01,341.50 L611.44,342.00 L610.89,342.50 L610.34,343.00 L609.82,343.50 L609.31,344.00 L608.82,344.50 L608.36,345.00 L607.92,345.50 L607.52,346.00 L607.15,346.50 L606.81,347.00 L606.51,347.50 L606.25,348.00 L606.01,348.50 L605.80,349.00 L605.62,349.50 L605.46,350.00 L605.33,350.50 L605.20,351.00 L605.10,351.50 L605.01,352.00 L604.93,352.50 L604.87,353.00 L604.83,353.50 L604.80,354.00 L604.80,354.50 L604.81,355.00 L604.85,355.50 L604.91,356.00 L604.99,356.50 L605.10,357.00 L605.24,357.50 L605.42,358.00 L605.62,358.50 L605.85,359.00 L606.10,359.50 L606.39,360.00 L606.70,360.50 L607.04,361.00 L607.40,361.50 L607.78,362.00 L608.18,362.50 L608.60,363.00 L609.05,363.50 L609.51,364.00 L610.00,364.50 L610.51,365.00 L611.05,365.50 L611.60,366.00 L612.18,366.50 L612.78,367.00 L613.40,367.50 L614.04,368.00 L614.70,368.50 L615.38,369.00 L616.08,369.50 L616.78,370.00 L617.50,370.50 L618.23,371.00 L618.95,371.50 L619.68,372.00 L620.40,372.50 L621.12,373.00 L621.84,373.50 L622.55,374.00 L623.26,374.50 L623.96,375.00 L624.66,375.50 L625.36,376.00 L626.05,376.50 L626.74,377.00 L627.42,377.50 L628.10,378.00 L628.76,378.50 L629.41,379.00 L630.04,379.50 L630.64,380.00 L631.20,380.50 L631.70,381.00 L632.14,381.50 L632.51,382.00 L674.69,382.00 L675.06,381.50 L675.50,381.00 L676.00,380.50 L676.56,380.00 L677.16,379.50 L677.79,379.00 L678.44,378.50 L679.10,378.00 L679.78,377.50 L680.46,377.00 L681.15,376.50 L681.84,376.00 L682.54,375.50 L683.24,375.00 L683.94,374.50 L684.65,374.00 L685.36,373.50 L686.08,373.00 L686.80,372.50 L687.52,372.00 L688.25,371.50 L688.97,371.00 L689.70,370.50 L690.42,370.00 L691.12,369.50 L691.82,369.00 L692.50,368.50 L693.16,368.00 L693.80,367.50 L694.42,367.00 L695.02,366.50 L695.60,366.00 L696.15,365.50 L696.69,365.00 L697.20,364.50 L697.69,364.00 L698.15,363.50 L698.60,363.00 L699.02,362.50 L699.42,362.00 L699.80,361.50 L700.16,361.00 L700.50,360.50 L700.81,360.00 L701.10,359.50 L701.35,359.00 L701.58,358.50 L701.78,358.00 L701.96,357.50 L702.10,357.00 L702.21,356.50 L702.29,356.00 L702.35,355.50 L702.39,355.00 L702.40,354.50 L702.40,354.00 L702.37,353.50 L702.33,353.00 L702.27,352.50 L702.19,352.00 L702.10,351.50 L702.00,351.00 L701.87,350.50 L701.74,350.00 L701.58,349.50 L701.40,349.00 L701.19,348.50 L700.95,348.00 L700.69,347.50 L700.39,347.00 L700.05,346.50 L699.68,346.00 L699.28,345.50 L698.84,345.00 L698.38,344.50 L697.89,344.00 L697.38,343.50 L696.86,343.00 L696.31,342.50 L695.76,342.00 L695.19,341.50 L694.61,341.00 L694.03,340.50 L693.45,340.00 L692.86,339.50 L692.26,339.00 L691.67,338.50 L691.08,338.00 L690.48,337.50 L689.89,337.00 L689.29,336.50 L688.70,336.00 L688.11,335.50 L687.52,335.00 L686.94,334.50 L686.36,334.00 L685.78,333.50 L685.20,333.00 L684.63,332.50 L684.05,332.00 L683.49,331.50 L682.93,331.00 L682.37,330.50 L681.82,330.00 L681.28,329.50 L680.75,329.00 L680.23,328.50 L679.72,328.00 L679.21,327.50 L678.72,327.00 L678.24,326.50 L677.77,326.00 L677.30,325.50 L676.85,325.00 L676.41,324.50 L675.98,324.00 L675.56,323.50 L675.15,323.00 L674.75,322.50 L674.37,322.00 L674.00,321.50 L673.65,321.00 L673.30,320.50 L672.96,320.00 L672.64,319.50 L672.33,319.00 L672.03,318.50 L671.74,318.00 L671.47,317.50 L671.22,317.00 L670.98,316.50 L670.76,316.00 L670.55,315.50 L670.36,315.00 L670.19,314.50 L670.04,314.00 L669.89,313.50 L669.76,313.00 L669.64,312.50 L669.52,312.00 L669.41,311.50 L669.30,311.00 L669.20,310.50 L669.10,310.00 L669.00,309.50 L668.90,309.00 L668.80,308.50 L668.70,308.00 L668.60,307.50 L668.51,307.00 L668.41,306.50 L668.31,306.00 L668.22,305.50 L668.12,305.00 L668.03,304.50 L667.93,304.00 L667.84,303.50 L667.74,303.00 L667.65,302.50 L667.56,302.00 L667.46,301.50 L667.37,301.00 L667.28,300.50 L667.18,300.00 L667.09,299.50 L667.00,299.00 L666.91,298.50 L666.82,298.00 L666.73,297.50 L666.64,297.00 L666.55,296.50 L666.46,296.00 L666.38,295.50 L666.29,295.00 L666.21,294.50 L666.12,294.00 L666.04,293.50 L665.96,293.00 L665.88,292.50 L665.80,292.00 L665.73,291.50 L665.65,291.00 L665.58,290.50 L665.50,290.00 L665.43,289.50 L665.36,289.00 L665.30,288.50 L665.24,288.00 L665.18,287.50 L665.13,287.00 L665.10,286.50 L665.07,286.00 L665.05,285.50 L665.05,285.00 L665.06,284.50 L665.09,284.00 L665.13,283.50 L665.18,283.00 L665.24,282.50 L665.32,282.00 L665.40,281.50 L665.50,281.00 L665.61,280.50 L665.73,280.00 L665.86,279.50 L666.00,279.00 L666.16,278.50 L666.33,278.00 L666.51,277.50 L666.71,277.00 L666.93,276.50 L667.16,276.00 L667.40,275.50 L667.66,275.00 L667.93,274.50 L668.23,274.00 L668.54,273.50 L668.86,273.00 L669.20,272.50 L669.56,272.00 L669.94,271.50 L670.32,271.00 L670.73,270.50 L671.14,270.00 L671.57,269.50 L672.01,269.00 L672.47,268.50 L672.93,268.00 L673.41,267.50 L673.89,267.00 L674.38,266.50 L674.87,266.00 L675.36,265.50 L675.85,265.00 L676.35,264.50 L676.84,264.00 L677.32,263.50 L677.80,263.00 L678.28,262.50 L678.74,262.00 L679.18,261.50 L679.61,261.00 L680.03,260.50 L680.42,260.00 L680.79,259.50 L681.15,259.00 L681.48,258.50 L681.79,258.00 L682.09,257.50 L682.36,257.00 L682.60,256.50 L682.83,256.00 L683.03,255.50 L683.21,255.00 L683.36,254.50 L683.50,254.00 L683.62,253.50 L683.73,253.00 L683.81,252.50 L683.88,252.00 L683.93,251.50 L683.96,251.00 L683.97,250.50 L683.96,250.00 L683.91,249.50 L683.85,249.00 L683.75,248.50 L683.63,248.00 L683.48,247.50 L683.31,247.00 L683.12,246.50 L682.90,246.00 L682.67,245.50 L682.42,245.00 L682.15,244.50 L681.86,244.00 L681.55,243.50 L681.23,243.00 L680.89,242.50 L680.54,242.00 L680.18,241.50 L679.81,241.00 L679.44,240.50 L679.07,240.00 L678.70,239.50 L678.33,239.00 L677.96,238.50 L677.59,238.00 L677.23,237.50 L676.86,237.00 L676.49,236.50 L676.12,236.00 L675.74,235.50 L675.37,235.00 L674.99,234.50 L674.61,234.00 L674.22,233.50 L673.83,233.00 L673.44,232.50 L673.05,232.00 L672.66,231.50 L672.27,231.00 L671.89,230.50 L671.52,230.00 L671.16,229.50 L670.81,229.00 L670.48,228.50 L670.17,228.00 L669.88,227.50 L669.61,227.00 L669.35,226.50 L669.11,226.00 L668.88,225.50 L668.66,225.00 L668.45,224.50 L668.25,224.00 L668.06,223.50 L667.88,223.00 L667.70,222.50 L667.53,222.00 L667.36,221.50 L667.20,221.00 L667.04,220.50 L666.88,220.00 L666.73,219.50 L666.59,219.00 L666.44,218.50 L666.30,218.00 L666.17,217.50 L666.03,217.00 L665.90,216.50 L665.77,216.00 L665.63,215.50 L665.51,215.00 L665.38,214.50 L665.25,214.00 L665.13,213.50 L665.00,213.00 L664.88,212.50 L664.76,212.00 L664.64,211.50 L664.52,211.00 L664.40,210.50 L664.29,210.00 L664.18,209.50 L664.07,209.00 L663.96,208.50 L663.85,208.00 L663.74,207.50 L663.64,207.00 L663.53,206.50 L663.43,206.00 L663.33,205.50 L663.23,205.00 L663.13,204.50 L663.04,204.00 L662.95,203.50 L662.86,203.00 L662.77,202.50 L662.68,202.00 L662.60,201.50 L662.51,201.00 L662.43,200.50 L662.35,200.00 L662.27,199.50 L662.19,199.00 L662.11,198.50 L662.02,198.00 L661.94,197.50 L661.84,197.00 L661.75,196.50 L661.65,196.00 L661.54,195.50 L661.43,195.00 L661.32,194.50 L661.21,194.00 L661.11,193.50 L661.02,193.00 L660.94,192.50 L660.87,192.00 L660.82,191.50 L660.79,191.00 L660.77,190.50 L660.77,190.00 L660.79,189.50 L660.82,189.00 L660.86,188.50 L660.91,188.00 L660.96,187.50 L661.03,187.00 L661.09,186.50 L661.16,186.00 L661.24,185.50 L661.32,185.00 L661.39,184.50 L661.48,184.00 L661.56,183.50 L661.64,183.00 L661.73,182.50 L661.82,182.00 L661.92,181.50 L662.01,181.00 L662.10,180.50 L662.20,180.00 L662.29,179.50 L662.38,179.00 L662.46,178.50 L662.55,178.00 L662.63,177.50 L662.71,177.00 L662.78,176.50 L662.85,176.00 L662.92,175.50 L662.99,175.00 L663.05,174.50 L663.10,174.00 L663.15,173.50 L663.20,173.00 L663.24,172.50 L663.27,172.00 L663.29,171.50 L663.31,171.00 L663.33,170.50 L663.34,170.00 L663.34,169.50 L663.35,169.00 L663.35,168.50 L663.35,168.00 L663.35,167.50 L663.35,167.00 L663.35,166.50 L663.34,166.00 L663.34,165.50 L663.33,165.00 L663.32,164.50 L663.31,164.00 L663.29,163.50 L663.27,163.00 L663.24,162.50 L663.21,162.00 L663.18,161.50 L663.14,161.00 L663.10,160.50 L663.06,160.00 L663.01,159.50 L662.95,159.00 L662.90,158.50 L662.84,158.00 L662.79,157.50 L662.72,157.00 L662.66,156.50 L662.60,156.00 L662.54,155.50 L662.47,155.00 L662.41,154.50 L662.34,154.00 L662.27,153.50 L662.20,153.00 L662.13,152.50 L662.05,152.00 L661.97,151.50 L661.88,151.00 L661.79,150.50 L661.70,150.00 L661.60,149.50 L661.49,149.00 L661.39,148.50 L661.28,148.00 L661.17,147.50 L661.06,147.00 L660.95,146.50 L660.84,146.00 L660.73,145.50 L660.63,145.00 L660.54,144.50 L660.45,144.00 L660.36,143.50 L660.28,143.00 L660.21,142.50 L660.15,142.00 L660.10,141.50 L660.06,141.00 L660.02,140.50 L659.99,140.00 L659.97,139.50 L659.95,139.00 L659.94,138.50 L659.93,138.00 L659.92,137.50 L659.91,137.00 L659.91,136.50 L659.90,136.00 L659.89,135.50 L659.89,135.00 L659.88,134.50 L659.88,134.00 L659.88,133.50 L659.87,133.00 L659.87,132.50 L659.87,132.00 L659.86,131.50 L659.86,131.00 L659.86,130.50 L659.86,130.00 L659.86,129.50 L659.86,129.00 L659.86,128.50 L659.86,128.00 L659.86,127.50 L659.87,127.00 L659.88,126.50 L659.89,126.00 L659.91,125.50 L659.92,125.00 L659.94,124.50 L659.97,124.00 L659.99,123.50 L660.02,123.00 L660.05,122.50 L660.08,122.00 L660.12,121.50 L660.15,121.00 L660.19,120.50 L660.23,120.00 L660.27,119.50 L660.31,119.00 L660.36,118.50 L660.40,118.00 L660.44,117.50 L660.48,117.00 L660.53,116.50 L660.57,116.00 L660.61,115.50 L660.66,115.00 L660.71,114.50 L660.75,114.00 L660.80,113.50 L660.85,113.00 L660.91,112.50 L660.96,112.00 L661.02,111.50 L661.08,111.00 L661.14,110.50 L661.20,110.00 L661.26,109.50 L661.32,109.00 L661.38,108.50 L661.44,108.00 L661.50,107.50 L661.55,107.00 L661.61,106.50 L661.66,106.00 L661.71,105.50 L661.75,105.00 L661.79,104.50 L661.83,104.00 L661.87,103.50 L661.90,103.00 L661.93,102.50 L661.95,102.00 L661.97,101.50 L661.99,101.00 L662.01,100.50 L662.02,100.00 L662.04,99.50 L662.05,99.00 L662.06,98.50 L662.07,98.00 L662.09,97.50 L662.10,97.00 L662.11,96.50 L662.12,96.00 L662.13,95.50 L662.15,95.00 L662.16,94.50 L662.18,94.00 L662.20,93.50 L662.23,93.00 L662.26,92.50 L662.29,92.00 L662.33,91.50 L662.38,91.00 L662.43,90.50 L662.49,90.00 L662.56,89.50 L662.64,89.00 L662.72,88.50 L662.82,88.00 L662.92,87.50 L663.04,87.00 L663.17,86.50 L663.30,86.00 L663.45,85.50 L663.60,85.00 L663.76,84.50 L663.94,84.00 L664.12,83.50 L664.30,83.00 L664.50,82.50 L664.71,82.00 L664.92,81.50 L665.15,81.00 L665.38,80.50 L665.63,80.00 L665.88,79.50 L666.15,79.00 L666.43,78.50 L666.72,78.00 L667.03,77.50 L667.34,77.00 L667.67,76.50 L668.01,76.00 L668.36,75.50 L668.73,75.00 L669.10,74.50 L669.49,74.00 L669.89,73.50 L670.30,73.00 L670.73,72.50 L671.17,72.00 L671.61,71.50 L672.07,71.00 L672.54,70.50 L673.02,70.00 L673.51,69.50 L674.00,69.00 L674.50,68.50 L674.99,68.00 L675.48,67.50 L675.95,67.00 L676.42,66.50 L676.88,66.00 L677.32,65.50 L677.75,65.00 L678.16,64.50 L678.55,64.00 L678.92,63.50 L679.27,63.00 L679.60,62.50 L679.90,62.00 L680.17,61.50 L680.42,61.00 L680.64,60.50 L680.82,60.00 L680.98,59.50 L681.11,59.00 L681.23,58.50 L681.32,58.00 L681.40,57.50 L681.46,57.00 L681.52,56.50 L681.57,56.00 L681.61,55.50 L681.65,55.00 L681.67,54.50 L681.70,54.00 L681.71,53.50 L681.73,53.00 L681.74,52.50 L681.74,52.00 L681.75,51.50 L681.75,51.00 L681.75,50.50 L681.75,50.00 L681.75,49.50 L681.75,49.00 L681.75,48.50 L681.75,48.00 Z" fill="#cc8963" stroke="#4a4a4a" stroke-width="1.70" stroke-linejoin="round"/>
<line x1="653.10" y1="48.00" x2="653.10" y2="385.00" stroke="#4a4a4a" stroke-width="1.7"/>
<line x1="653.10" y1="161.50" x2="653.10" y2="348.50" stroke="#4a4a4a" stroke-width="4.8" stroke-linecap="round"/>
<circle cx="653.10" cy="250.60" r="1.3" fill="#ececec"/>
<path d="M775.55,50.00 L775.55,50.50 L775.55,51.00 L775.55,51.50 L775.55,52.00 L775.55,52.50 L775.55,53.00 L775.55,53.50 L775.55,54.00 L775.55,54.50 L775.55,55.00 L775.55,55.50 L775.55,56.00 L775.55,56.50 L775.55,57.00 L775.55,57.50 L775.55,58.00 L775.55,58.50 L775.55,59.00 L775.55,59.50 L775.55,60.00 L775.55,60.50 L775.55,61.00 L775.55,61.50 L775.55,62.00 L775.55,62.50 L775.55,63.00 L775.55,63.50 L775.55,64.00 L775.55,64.50 L775.55,65.00 L775.55,65.50 L775.55,66.00 L775.55,66.50 L775.55,67.00 L775.55,67.50 L775.55,68.00 L775.55,68.50 L775.55,69.00 L775.55,69.50 L775.55,70.00 L775.55,70.50 L775.55,71.00 L775.55,71.50 L775.55,72.00 L775.55,72.50 L775.55,73.00 L775.55,73.50 L775.55,74.00 L775.55,74.50 L775.55,75.00 L775.55,75.50 L775.55,76.00 L775.54,76.50 L775.54,77.00 L775.54,77.50 L775.54,78.00 L775.54,78.50 L775.54,79.00 L775.54,79.50 L775.54,80.00 L775.54,80.50 L775.54,81.00 L775.54,81.50 L775.54,82.00 L775.54,82.50 L775.54,83.00 L775.54,83.50 L775.54,84.00 L775.54,84.50 L775.54,85.00 L775.54,85.50 L775.54,86.00 L775.54,86.50 L775.54,87.00 L775.54,87.50 L775.54,88.00 L775.54,88.50 L775.54,89.00 L775.54,89.50 L775.54,90.00 L775.54,90.50 L775.54,91.00 L775.54,91.50 L775.54,92.00 L775.54,92.50 L775.54,93.00 L775.53,93.50 L775.53,94.00 L775.53,94.50 L775.53,95.00 L775.53,95.50 L775.53,96.00 L775.53,96.50 L775.53,97.00 L775.53,97.50 L775.53,98.00 L775.53,98.50 L775.53,99.00 L775.53,99.50 L775.53,100.00 L775.53,100.50 L775.53,101.00 L775.53,101.50 L775.53,102.00 L775.53,102.50 L775.53,103.00 L775.53,103.50 L775.53,104.00 L775.53,104.50 L775.52,105.00 L775.52,105.50 L775.52,106.00 L775.52,106.50 L775.52,107.00 L775.52,107.50 L775.52,108.00 L775.52,108.50 L775.52,109.00 L775.52,109.50 L775.52,110.00 L775.52,110.50 L775.52,111.00 L775.52,111.50 L775.52,112.00 L775.52,112.50 L775.52,113.00 L775.51,113.50 L775.51,114.00 L775.51,114.50 L775.51,115.00 L775.51,115.50 L775.51,116.00 L775.51,116.50 L775.51,117.00 L775.51,117.50 L775.51,118.00 L775.51,118.50 L775.51,119.00 L775.51,119.50 L775.51,120.00 L775.51,120.50 L775.50,121.00 L775.50,121.50 L775.50,122.00 L775.50,122.50 L775.50,123.00 L775.50,123.50 L775.50,124.00 L775.50,124.50 L775.50,125.00 L775.50,125.50 L775.50,126.00 L775.50,126.50 L775.50,127.00 L775.49,127.50 L775.49,128.00 L775.49,128.50 L775.49,129.00 L775.49,129.50 L775.49,130.00 L775.49,130.50 L775.49,131.00 L775.49,131.50 L775.49,132.00 L775.49,132.50 L775.49,133.00 L775.48,133.50 L775.48,134.00 L775.48,134.50 L775.48,135.00 L775.48,135.50 L775.48,136.00 L775.48,136.50 L775.48,137.00 L775.48,137.50 L775.48,138.00 L775.47,138.50 L775.47,139.00 L775.47,139.50 L775.47,140.00 L775.47,140.50 L775.47,141.00 L775.47,141.50 L775.47,142.00 L775.47,142.50 L775.47,143.00 L775.46,143.50 L775.46,144.00 L775.46,144.50 L775.46,145.00 L775.46,145.50 L775.46,146.00 L775.46,146.50 L775.46,147.00 L775.46,147.50 L775.45,148.00 L775.45,148.50 L775.45,149.00 L775.45,149.50 L775.45,150.00 L775.45,150.50 L775.44,151.00 L775.44,151.50 L775.44,152.00 L775.43,152.50 L775.43,153.00 L775.42,153.50 L775.42,154.00 L775.41,154.50 L775.40,155.00 L775.40,155.50 L775.39,156.00 L775.38,156.50 L775.37,157.00 L775.36,157.50 L775.36,158.00 L775.35,158.50 L775.34,159.00 L775.33,159.50 L775.32,160.00 L775.31,160.50 L775.30,161.00 L775.28,161.50 L775.27,162.00 L775.26,162.50 L775.25,163.00 L775.24,163.50 L775.23,164.00 L775.22,164.50 L775.21,165.00 L775.20,165.50 L775.19,166.00 L775.17,166.50 L775.16,167.00 L775.15,167.50 L775.14,168.00 L775.13,168.50 L775.12,169.00 L775.11,169.50 L775.10,170.00 L775.09,170.50 L775.08,171.00 L775.07,171.50 L775.06,172.00 L775.05,172.50 L775.04,173.00 L775.04,173.50 L775.03,174.00 L775.02,174.50 L775.01,175.00 L775.00,175.50 L774.99,176.00 L774.98,176.50 L774.97,177.00 L774.96,177.50 L774.95,178.00 L774.95,178.50 L774.94,179.00 L774.93,179.50 L774.92,180.00 L774.91,180.50 L774.90,181.00 L774.89,181.50 L774.88,182.00 L774.87,182.50 L774.86,183.00 L774.85,183.50 L774.84,184.00 L774.83,184.50 L774.82,185.00 L774.81,185.50 L774.80,186.00 L774.78,186.50 L774.77,187.00 L774.76,187.50 L774.75,188.00 L774.74,188.50 L774.72,189.00 L774.71,189.50 L774.70,190.00 L774.68,190.50 L774.67,191.00 L774.66,191.50 L774.64,192.00 L774.63,192.50 L774.61,193.00 L774.60,193.50 L774.58,194.00 L774.56,194.50 L774.54,195.00 L774.52,195.50 L774.50,196.00 L774.48,196.50 L774.46,197.00 L774.43,197.50 L774.41,198.00 L774.38,198.50 L774.35,199.00 L774.32,199.50 L774.29,200.00 L774.26,200.50 L774.23,201.00 L774.19,201.50 L774.16,202.00 L774.13,202.50 L774.09,203.00 L774.06,203.50 L774.03,204.00 L773.99,204.50 L773.96,205.00 L773.93,205.50 L773.90,206.00 L773.87,206.50 L773.84,207.00 L773.81,207.50 L773.78,208.00 L773.75,208.50 L773.72,209.00 L773.70,209.50 L773.67,210.00 L773.64,210.50 L773.62,211.00 L773.59,211.50 L773.57,212.00 L773.54,212.50 L773.52,213.00 L773.49,213.50 L773.47,214.00 L773.44,214.50 L773.42,215.00 L773.39,215.50 L773.36,216.00 L773.33,216.50 L773.30,217.00 L773.27,217.50 L773.23,218.00 L773.20,218.50 L773.16,219.00 L773.12,219.50 L773.07,220.00 L773.02,220.50 L772.97,221.00 L772.91,221.50 L772.86,222.00 L772.80,222.50 L772.73,223.00 L772.67,223.50 L772.61,224.00 L772.55,224.50 L772.50,225.00 L772.45,225.50 L772.40,226.00 L772.36,226.50 L772.32,227.00 L772.28,227.50 L772.24,228.00 L772.21,228.50 L772.18,229.00 L772.16,229.50 L772.14,230.00 L772.12,230.50 L772.11,231.00 L772.10,231.50 L772.10,232.00 L772.10,232.50 L772.11,233.00 L772.13,233.50 L772.15,234.00 L772.18,234.50 L772.21,235.00 L772.24,235.50 L772.27,236.00 L772.31,236.50 L772.33,237.00 L772.36,237.50 L772.37,238.00 L772.38,238.50 L772.38,239.00 L772.38,239.50 L772.36,240.00 L772.34,240.50 L772.31,241.00 L772.27,241.50 L772.23,242.00 L772.19,242.50 L772.14,243.00 L772.10,243.50 L772.05,244.00 L772.01,244.50 L771.96,245.00 L771.92,245.50 L771.88,246.00 L771.84,246.50 L771.80,247.00 L771.76,247.50 L771.72,248.00 L771.68,248.50 L771.64,249.00 L771.60,249.50 L771.55,250.00 L771.51,250.50 L771.46,251.00 L771.41,251.50 L771.35,252.00 L771.30,252.50 L771.24,253.00 L771.18,253.50 L771.12,254.00 L771.05,254.50 L770.99,255.00 L770.92,255.50 L770.85,256.00 L770.79,256.50 L770.72,257.00 L770.65,257.50 L770.58,258.00 L770.51,258.50 L770.43,259.00 L770.36,259.50 L770.29,260.00 L770.22,260.50 L770.15,261.00 L770.07,261.50 L770.00,262.00 L769.93,262.50 L769.86,263.00 L769.79,263.50 L769.73,264.00 L769.66,264.50 L769.59,265.00 L769.53,265.50 L769.47,266.00 L769.40,266.50 L769.34,267.00 L769.27,267.50 L769.21,268.00 L769.14,268.50 L769.08,269.00 L769.01,269.50 L768.94,270.00 L768.87,270.50 L768.79,271.00 L768.72,271.50 L768.64,272.00 L768.56,272.50 L768.48,273.00 L768.40,273.50 L768.32,274.00 L768.24,274.50 L768.15,275.00 L768.07,275.50 L767.98,276.00 L767.89,276.50 L767.79,277.00 L767.70,277.50 L767.60,278.00 L767.51,278.50 L767.41,279.00 L767.32,279.50 L767.23,280.00 L767.14,280.50 L767.06,281.00 L766.98,281.50 L766.91,282.00 L766.85,282.50 L766.80,283.00 L766.75,283.50 L766.70,284.00 L766.66,284.50 L766.62,285.00 L766.58,285.50 L766.55,286.00 L766.51,286.50 L766.47,287.00 L766.43,287.50 L766.38,288.00 L766.33,288.50 L766.27,289.00 L766.21,289.50 L766.14,290.00 L766.06,290.50 L765.98,291.00 L765.89,291.50 L765.79,292.00 L765.69,292.50 L765.59,293.00 L765.48,293.50 L765.37,294.00 L765.25,294.50 L765.14,295.00 L765.01,295.50 L764.89,296.00 L764.76,296.50 L764.63,297.00 L764.49,297.50 L764.34,298.00 L764.18,298.50 L764.02,299.00 L763.84,299.50 L763.65,300.00 L763.44,300.50 L763.21,301.00 L762.97,301.50 L762.70,302.00 L762.41,302.50 L762.10,303.00 L761.76,303.50 L761.41,304.00 L761.04,304.50 L760.66,305.00 L760.27,305.50 L759.87,306.00 L759.46,306.50 L759.04,307.00 L758.63,307.50 L758.20,308.00 L757.78,308.50 L757.35,309.00 L756.92,309.50 L756.49,310.00 L756.06,310.50 L755.63,311.00 L755.21,311.50 L754.80,312.00 L754.40,312.50 L754.02,313.00 L753.65,313.50 L753.29,314.00 L752.95,314.50 L752.62,315.00 L752.31,315.50 L752.00,316.00 L751.71,316.50 L751.42,317.00 L751.13,317.50 L750.86,318.00 L750.59,318.50 L750.33,319.00 L750.09,319.50 L749.86,320.00 L749.66,320.50 L749.48,321.00 L749.32,321.50 L749.19,322.00 L749.08,322.50 L749.00,323.00 L748.93,323.50 L748.89,324.00 L748.87,324.50 L748.86,325.00 L748.86,325.50 L748.88,326.00 L748.91,326.50 L748.94,327.00 L748.98,327.50 L749.02,328.00 L749.06,328.50 L749.11,329.00 L749.16,329.50 L749.20,330.00 L749.25,330.50 L749.30,331.00 L749.34,331.50 L749.37,332.00 L749.39,332.50 L749.40,333.00 L749.39,333.50 L749.36,334.00 L749.31,334.50 L749.24,335.00 L749.15,335.50 L749.04,336.00 L748.91,336.50 L748.76,337.00 L748.59,337.50 L748.42,338.00 L748.23,338.50 L748.03,339.00 L747.82,339.50 L747.61,340.00 L747.39,340.50 L747.17,341.00 L746.95,341.50 L746.71,342.00 L746.48,342.50 L746.23,343.00 L745.97,343.50 L745.71,344.00 L745.43,344.50 L745.14,345.00 L744.84,345.50 L744.52,346.00 L744.19,346.50 L743.85,347.00 L743.49,347.50 L743.12,348.00 L742.73,348.50 L742.32,349.00 L741.90,349.50 L741.46,350.00 L741.00,350.50 L740.52,351.00 L740.03,351.50 L739.52,352.00 L739.00,352.50 L738.46,353.00 L737.92,353.50 L737.37,354.00 L736.82,354.50 L736.27,355.00 L735.72,355.50 L735.18,356.00 L734.64,356.50 L734.12,357.00 L733.61,357.50 L733.11,358.00 L732.62,358.50 L732.16,359.00 L731.71,359.50 L731.27,360.00 L730.86,360.50 L730.46,361.00 L730.07,361.50 L729.70,362.00 L729.35,362.50 L729.02,363.00 L728.70,363.50 L728.41,364.00 L728.14,364.50 L727.90,365.00 L727.68,365.50 L727.50,366.00 L727.35,366.50 L727.24,367.00 L727.17,367.50 L727.14,368.00 L727.15,368.50 L727.20,369.00 L727.30,369.50 L727.45,370.00 L727.65,370.50 L727.92,371.00 L728.26,371.50 L728.69,372.00 L729.23,372.50 L729.89,373.00 L730.67,373.50 L731.58,374.00 L732.60,374.50 L733.74,375.00 L734.96,375.50 L736.24,376.00 L737.56,376.50 L738.90,377.00 L740.24,377.50 L741.58,378.00 L742.91,378.50 L744.22,379.00 L745.51,379.50 L746.77,380.00 L747.99,380.50 L749.14,381.00 L750.22,381.50 L751.19,382.00 L752.03,382.50 L752.74,383.00 L798.66,383.00 L799.37,382.50 L800.21,382.00 L801.18,381.50 L802.26,381.00 L803.41,380.50 L804.63,380.00 L805.89,379.50 L807.18,379.00 L808.49,378.50 L809.82,378.00 L811.16,377.50 L812.50,377.00 L813.84,376.50 L815.16,376.00 L816.44,375.50 L817.66,375.00 L818.80,374.50 L819.82,374.00 L820.73,373.50 L821.51,373.00 L822.17,372.50 L822.71,372.00 L823.14,371.50 L823.48,371.00 L823.75,370.50 L823.95,370.00 L824.10,369.50 L824.20,369.00 L824.25,368.50 L824.26,368.00 L824.23,367.50 L824.16,367.00 L824.05,366.50 L823.90,366.00 L823.72,365.50 L823.50,365.00 L823.26,364.50 L822.99,364.00 L822.70,363.50 L822.38,363.00 L822.05,362.50 L821.70,362.00 L821.33,361.50 L820.94,361.00 L820.54,360.50 L820.13,360.00 L819.69,359.50 L819.24,359.00 L818.78,358.50 L818.29,358.00 L817.79,357.50 L817.28,357.00 L816.76,356.50 L816.22,356.00 L815.68,355.50 L815.13,355.00 L814.58,354.50 L814.03,354.00 L813.48,353.50 L812.94,353.00 L812.40,352.50 L811.88,352.00 L811.37,351.50 L810.88,351.00 L810.40,350.50 L809.94,350.00 L809.50,349.50 L809.08,349.00 L808.67,348.50 L808.28,348.00 L807.91,347.50 L807.55,347.00 L807.21,346.50 L806.88,346.00 L806.56,345.50 L806.26,345.00 L805.97,344.50 L805.69,344.00 L805.43,343.50 L805.17,343.00 L804.92,342.50 L804.69,342.00 L804.45,341.50 L804.23,341.00 L804.01,340.50 L803.79,340.00 L803.58,339.50 L803.37,339.00 L803.17,338.50 L802.98,338.00 L802.81,337.50 L802.64,337.00 L802.49,336.50 L802.36,336.00 L802.25,335.50 L802.16,335.00 L802.09,334.50 L802.04,334.00 L802.01,333.50 L802.00,333.00 L802.01,332.50 L802.03,332.00 L802.06,331.50 L802.10,331.00 L802.15,330.50 L802.20,330.00 L802.24,329.50 L802.29,329.00 L802.34,328.50 L802.38,328.00 L802.42,327.50 L802.46,327.00 L802.49,326.50 L802.52,326.00 L802.54,325.50 L802.54,325.00 L802.53,324.50 L802.51,324.00 L802.47,323.50 L802.40,323.00 L802.32,322.50 L802.21,322.00 L802.08,321.50 L801.92,321.00 L801.74,320.50 L801.54,320.00 L801.31,319.50 L801.07,319.00 L800.81,318.50 L800.54,318.00 L800.27,317.50 L799.98,317.00 L799.69,316.50 L799.40,316.00 L799.09,315.50 L798.78,315.00 L798.45,314.50 L798.11,314.00 L797.75,313.50 L797.38,313.00 L797.00,312.50 L796.60,312.00 L796.19,311.50 L795.77,311.00 L795.34,310.50 L794.91,310.00 L794.48,309.50 L794.05,309.00 L793.62,308.50 L793.20,308.00 L792.77,307.50 L792.36,307.00 L791.94,306.50 L791.53,306.00 L791.13,305.50 L790.74,305.00 L790.36,304.50 L789.99,304.00 L789.64,303.50 L789.30,303.00 L788.99,302.50 L788.70,302.00 L788.43,301.50 L788.19,301.00 L787.96,300.50 L787.75,300.00 L787.56,299.50 L787.38,299.00 L787.22,298.50 L787.06,298.00 L786.91,297.50 L786.77,297.00 L786.64,296.50 L786.51,296.00 L786.39,295.50 L786.26,295.00 L786.15,294.50 L786.03,294.00 L785.92,293.50 L785.81,293.00 L785.71,292.50 L785.61,292.00 L785.51,291.50 L785.42,291.00 L785.34,290.50 L785.26,290.00 L785.19,289.50 L785.13,289.00 L785.07,288.50 L785.02,288.00 L784.97,287.50 L784.93,287.00 L784.89,286.50 L784.85,286.00 L784.82,285.50 L784.78,285.00 L784.74,284.50 L784.70,284.00 L784.65,283.50 L784.60,283.00 L784.55,282.50 L784.49,282.00 L784.42,281.50 L784.34,281.00 L784.26,280.50 L784.17,280.00 L784.08,279.50 L783.99,279.00 L783.89,278.50 L783.80,278.00 L783.70,277.50 L783.61,277.00 L783.51,276.50 L783.42,276.00 L783.33,275.50 L783.25,275.00 L783.16,274.50 L783.08,274.00 L783.00,273.50 L782.92,273.00 L782.84,272.50 L782.76,272.00 L782.68,271.50 L782.61,271.00 L782.53,270.50 L782.46,270.00 L782.39,269.50 L782.32,269.00 L782.26,268.50 L782.19,268.00 L782.13,267.50 L782.06,267.00 L782.00,266.50 L781.93,266.00 L781.87,265.50 L781.81,265.00 L781.74,264.50 L781.67,264.00 L781.61,263.50 L781.54,263.00 L781.47,262.50 L781.40,262.00 L781.33,261.50 L781.25,261.00 L781.18,260.50 L781.11,260.00 L781.04,259.50 L780.97,259.00 L780.89,258.50 L780.82,258.00 L780.75,257.50 L780.68,257.00 L780.61,256.50 L780.55,256.00 L780.48,255.50 L780.41,255.00 L780.35,254.50 L780.28,254.00 L780.22,253.50 L780.16,253.00 L780.10,252.50 L780.05,252.00 L779.99,251.50 L779.94,251.00 L779.89,250.50 L779.85,250.00 L779.80,249.50 L779.76,249.00 L779.72,248.50 L779.68,248.00 L779.64,247.50 L779.60,247.00 L779.56,246.50 L779.52,246.00 L779.48,245.50 L779.44,245.00 L779.39,244.50 L779.35,244.00 L779.30,243.50 L779.26,243.00 L779.21,242.50 L779.17,242.00 L779.13,241.50 L779.09,241.00 L779.06,240.50 L779.04,240.00 L779.02,239.50 L779.02,239.00 L779.02,238.50 L779.03,238.00 L779.04,237.50 L779.07,237.00 L779.09,236.50 L779.13,236.00 L779.16,235.50 L779.19,235.00 L779.22,234.50 L779.25,234.00 L779.27,233.50 L779.29,233.00 L779.30,232.50 L779.30,232.00 L779.30,231.50 L779.29,231.00 L779.28,230.50 L779.26,230.00 L779.24,229.50 L779.22,229.00 L779.19,228.50 L779.16,228.00 L779.12,227.50 L779.08,227.00 L779.04,226.50 L779.00,226.00 L778.95,225.50 L778.90,225.00 L778.85,224.50 L778.79,224.00 L778.73,223.50 L778.67,223.00 L778.60,222.50 L778.54,222.00 L778.49,221.50 L778.43,221.00 L778.38,220.50 L778.33,220.00 L778.28,219.50 L778.24,219.00 L778.20,218.50 L778.17,218.00 L778.13,217.50 L778.10,217.00 L778.07,216.50 L778.04,216.00 L778.01,215.50 L777.98,215.00 L777.96,214.50 L777.93,214.00 L777.91,213.50 L777.88,213.00 L777.86,212.50 L777.83,212.00 L777.81,211.50 L777.78,211.00 L777.76,210.50 L777.73,210.00 L777.70,209.50 L777.68,209.00 L777.65,208.50 L777.62,208.00 L777.59,207.50 L777.56,207.00 L777.53,206.50 L777.50,206.00 L777.47,205.50 L777.44,205.00 L777.41,204.50 L777.37,204.00 L777.34,203.50 L777.31,203.00 L777.27,202.50 L777.24,202.00 L777.21,201.50 L777.17,201.00 L777.14,200.50 L777.11,200.00 L777.08,199.50 L777.05,199.00 L777.02,198.50 L776.99,198.00 L776.97,197.50 L776.94,197.00 L776.92,196.50 L776.90,196.00 L776.88,195.50 L776.86,195.00 L776.84,194.50 L776.82,194.00 L776.80,193.50 L776.79,193.00 L776.77,192.50 L776.76,192.00 L776.74,191.50 L776.73,191.00 L776.72,190.50 L776.70,190.00 L776.69,189.50 L776.68,189.00 L776.66,188.50 L776.65,188.00 L776.64,187.50 L776.63,187.00 L776.62,186.50 L776.60,186.00 L776.59,185.50 L776.58,185.00 L776.57,184.50 L776.56,184.00 L776.55,183.50 L776.54,183.00 L776.53,182.50 L776.52,182.00 L776.51,181.50 L776.50,181.00 L776.49,180.50 L776.48,180.00 L776.47,179.50 L776.46,179.00 L776.45,178.50 L776.45,178.00 L776.44,177.50 L776.43,177.00 L776.42,176.50 L776.41,176.00 L776.40,175.50 L776.39,175.00 L776.38,174.50 L776.37,174.00 L776.36,173.50 L776.36,173.00 L776.35,172.50 L776.34,172.00 L776.33,171.50 L776.32,171.00 L776.31,170.50 L776.30,170.00 L776.29,169.50 L776.28,169.00 L776.27,168.50 L776.26,168.00 L776.25,167.50 L776.24,167.00 L776.23,166.50 L776.21,166.00 L776.20,165.50 L776.19,165.00 L776.18,164.50 L776.17,164.00 L776.16,163.50 L776.15,163.00 L776.14,162.50 L776.13,162.00 L776.12,161.50 L776.10,161.00 L776.09,160.50 L776.08,160.00 L776.07,159.50 L776.06,159.00 L776.05,158.50 L776.04,158.00 L776.04,157.50 L776.03,157.00 L776.02,156.50 L776.01,156.00 L776.00,155.50 L776.00,155.00 L775.99,154.50 L775.98,154.00 L775.98,153.50 L775.97,153.00 L775.97,152.50 L775.96,152.00 L775.96,151.50 L775.96,151.00 L775.95,150.50 L775.95,150.00 L775.95,149.50 L775.95,149.00 L775.95,148.50 L775.95,148.00 L775.94,147.50 L775.94,147.00 L775.94,146.50 L775.94,146.00 L775.94,145.50 L775.94,145.00 L775.94,144.50 L775.94,144.00 L775.94,143.50 L775.93,143.00 L775.93,142.50 L775.93,142.00 L775.93,141.50 L775.93,141.00 L775.93,140.50 L775.93,140.00 L775.93,139.50 L775.93,139.00 L775.93,138.50 L775.92,138.00 L775.92,137.50 L775.92,137.00 L775.92,136.50 L775.92,136.00 L775.92,135.50 L775.92,135.00 L775.92,134.50 L775.92,134.00 L775.92,133.50 L775.91,133.00 L775.91,132.50 L775.91,132.00 L775.91,131.50 L775.91,131.00 L775.91,130.50 L775.91,130.00 L775.91,129.50 L775.91,129.00 L775.91,128.50 L775.91,128.00 L775.91,127.50 L775.90,127.00 L775.90,126.50 L775.90,126.00 L775.90,125.50 L775.90,125.00 L775.90,124.50 L775.90,124.00 L775.90,123.50 L775.90,123.00 L775.90,122.50 L775.90,122.00 L775.90,121.50 L775.90,121.00 L775.89,120.50 L775.89,120.00 L775.89,119.50 L775.89,119.00 L775.89,118.50 L775.89,118.00 L775.89,117.50 L775.89,117.00 L775.89,116.50 L775.89,116.00 L775.89,115.50 L775.89,115.00 L775.89,114.50 L775.89,114.00 L775.89,113.50 L775.88,113.00 L775.88,112.50 L775.88,112.00 L775.88,111.50 L775.88,111.00 L775.88,110.50 L775.88,110.00 L775.88,109.50 L775.88,109.00 L775.88,108.50 L775.88,108.00 L775.88,107.50 L775.88,107.00 L775.88,106.50 L775.88,106.00 L775.88,105.50 L775.88,105.00 L775.87,104.50 L775.87,104.00 L775.87,103.50 L775.87,103.00 L775.87,102.50 L775.87,102.00 L775.87,101.50 L775.87,101.00 L775.87,100.50 L775.87,100.00 L775.87,99.50 L775.87,99.00 L775.87,98.50 L775.87,98.00 L775.87,97.50 L775.87,97.00 L775.87,96.50 L775.87,96.00 L775.87,95.50 L775.87,95.00 L775.87,94.50 L775.87,94.00 L775.87,93.50 L775.86,93.00 L775.86,92.50 L775.86,92.00 L775.86,91.50 L775.86,91.00 L775.86,90.50 L775.86,90.00 L775.86,89.50 L775.86,89.00 L775.86,88.50 L775.86,88.00 L775.86,87.50 L775.86,87.00 L775.86,86.50 L775.86,86.00 L775.86,85.50 L775.86,85.00 L775.86,84.50 L775.86,84.00 L775.86,83.50 L775.86,83.00 L775.86,82.50 L775.86,82.00 L775.86,81.50 L775.86,81.00 L775.86,80.50 L775.86,80.00 L775.86,79.50 L775.86,79.00 L775.86,78.50 L775.86,78.00 L775.86,77.50 L775.86,77.00 L775.86,76.50 L775.85,76.00 L775.85,75.50 L775.85,75.00 L775.85,74.50 L775.85,74.00 L775.85,73.50 L775.85,73.00 L775.85,72.50 L775.85,72.00 L775.85,71.50 L775.85,71.00 L775.85,70.50 L775.85,70.00 L775.85,69.50 L775.85,69.00 L775.85,68.50 L775.85,68.00 L775.85,67.50 L775.85,67.00 L775.85,66.50 L775.85,66.00 L775.85,65.50 L775.85,65.00 L775.85,64.50 L775.85,64.00 L775.85,63.50 L775.85,63.00 L775.85,62.50 L775.85,62.00 L775.85,61.50 L775.85,61.00 L775.85,60.50 L775.85,60.00 L775.85,59.50 L775.85,59.00 L775.85,58.50 L775.85,58.00 L775.85,57.50 L775.85,57.00 L775.85,56.50 L775.85,56.00 L775.85,55.50 L775.85,55.00 L775.85,54.50 L775.85,54.00 L775.85,53.50 L775.85,53.00 L775.85,52.50 L775.85,52.00 L775.85,51.50 L775.85,51.00 L775.85,50.50 L775.85,50.00 Z" fill="#5f9e6e" stroke="#4a4a4a" stroke-width="1.70" stroke-linejoin="round"/>
<line x1="775.55" y1="238.10" x2="775.55" y2="385.00" stroke="#4a4a4a" stroke-width="1.7"/>
<line x1="775.55" y1="314.60" x2="775.55" y2="366.60" stroke="#4a4a4a" stroke-width="4.8" stroke-linecap="round"/>
<circle cx="775.55" cy="346.50" r="1.3" fill="#ececec"/>
</g>
</svg>
</body></html>
